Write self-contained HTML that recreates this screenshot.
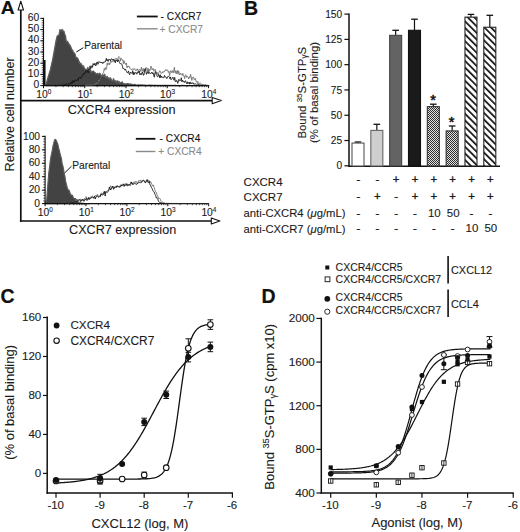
<!DOCTYPE html>
<html><head><meta charset="utf-8"><style>
html,body{margin:0;padding:0;background:#fff;width:520px;height:532px;overflow:hidden}
svg{display:block;font-family:"Liberation Sans", sans-serif}
</style></head><body>
<svg width="520" height="532" viewBox="0 0 520 532">
<defs>
<pattern id="chk" width="2" height="2" patternUnits="userSpaceOnUse"><rect width="2" height="2" fill="#e2e2e2"/><rect width="1" height="1" fill="#2e2e2e"/><rect x="1" y="1" width="1" height="1" fill="#2e2e2e"/></pattern>
<pattern id="hatch" width="4.67" height="4.67" patternUnits="userSpaceOnUse" patternTransform="rotate(-45)"><rect width="4.67" height="4.67" fill="#fff"/><rect x="0" y="0" width="1.7" height="4.67" fill="#111"/></pattern>
</defs>
<rect width="520" height="532" fill="#fff"/>
<text x="0.70" y="14.40" font-size="19.2" text-anchor="start" font-weight="bold" fill="#111" stroke="#111" stroke-width="0.2" >A</text>
<line x1="20.80" y1="8.50" x2="20.80" y2="221.80" stroke="#111" stroke-width="1.7"/>
<polygon points="20.80,1.20 18.10,10.00 23.50,10.00" fill="#fff" stroke="#111" stroke-width="1.1" stroke-linejoin="round" />
<line x1="19.95" y1="100.60" x2="212.50" y2="100.60" stroke="#111" stroke-width="1.7"/>
<polygon points="221.30,100.60 212.20,97.50 212.20,103.70" fill="#fff" stroke="#111" stroke-width="1.1" stroke-linejoin="round" />
<line x1="19.95" y1="221.00" x2="211.50" y2="221.00" stroke="#111" stroke-width="1.7"/>
<polygon points="219.90,221.00 211.30,218.00 211.30,224.00" fill="#fff" stroke="#111" stroke-width="1.1" stroke-linejoin="round" />
<text transform="translate(13.9,114.4) rotate(-90)" font-size="12.6" text-anchor="middle" fill="#1a1a1a" stroke="#1a1a1a" stroke-width="0.1">Relative cell number</text>
<text x="121.60" y="113.60" font-size="12.7" text-anchor="middle" font-weight="normal" fill="#1a1a1a" stroke="#1a1a1a" stroke-width="0.1" >CXCR4 expression</text>
<text x="122.60" y="233.70" font-size="12.6" text-anchor="middle" font-weight="normal" fill="#1a1a1a" stroke="#1a1a1a" stroke-width="0.1" >CXCR7 expression</text>
<polygon points="45.80,85.60 47.30,80.00 50.30,70.00 52.60,60.00 54.40,50.00 55.80,42.00 57.20,36.00 59.10,34.84 59.90,29.56 60.70,31.27 61.50,29.96 62.30,29.65 63.10,31.14 63.90,31.05 64.70,34.26 65.50,35.84 66.30,41.77 67.10,41.13 67.90,42.13 68.70,43.61 69.50,44.69 70.30,45.76 71.10,47.71 71.90,49.72 72.70,50.29 73.50,52.59 74.30,52.80 75.10,54.40 75.90,57.18 76.70,57.68 77.50,58.15 78.30,59.66 79.10,61.53 79.90,64.01 80.70,63.25 81.50,64.35 82.30,66.40 83.10,65.63 83.90,67.09 84.70,69.08 85.50,69.26 86.30,69.21 87.10,70.12 87.90,67.36 88.70,71.20 89.50,69.73 90.30,69.41 91.10,71.48 91.90,72.18 92.70,71.46 93.50,71.19 94.30,72.41 95.10,72.58 95.90,74.12 96.70,73.76 97.50,73.49 98.30,74.55 99.10,73.60 99.90,73.26 100.70,74.99 101.50,75.37 102.30,75.03 103.10,74.90 103.90,76.19 104.70,74.11 105.50,77.42 106.30,77.72 107.10,76.29 107.90,78.30 108.70,77.85 109.50,79.88 110.30,77.76 111.10,79.02 111.90,80.73 112.70,81.38 113.50,78.65 114.30,80.40 115.10,81.39 115.90,80.80 116.70,83.03 117.50,80.84 118.30,82.35 119.10,81.44 119.90,83.41 120.70,82.56 121.50,82.50 122.30,81.87 123.10,84.03 123.90,83.65 124.70,83.79 125.50,84.10 126.30,83.90 127.10,83.62 127.90,83.67 128.70,83.78 129.50,84.60 130.30,83.80 131.10,84.17 131.90,84.35 132.70,84.58 133.50,84.75 134.30,84.47 135.10,84.49 135.90,84.83 136.70,85.06 137.50,85.01 138.30,84.94 139.10,84.89 139.90,85.01 140.70,84.96 141.50,85.12 142.30,84.94 143.10,85.09 143.90,85.08 144.70,85.18 145.50,85.17 146.30,85.42 147.10,85.34 147.90,85.35 148.70,85.10 149.50,85.26 150.30,85.26 151.10,85.35 151.90,85.17 152.70,85.40 153.50,85.40 154.30,85.27 155.10,85.30 155.90,85.32 156.70,85.37 157.50,85.41 158.30,85.48 159.10,85.38 159.90,85.43 160.70,85.41 161.50,85.49 162.30,85.45 163.10,85.48 163.90,85.40 164.70,85.44 165.50,85.43 166.30,85.51 167.10,85.49 167.90,85.47 168.70,85.48 169.50,85.51 170.30,85.49 171.10,85.48 171.90,85.52 172.70,85.56 173.50,85.50 174.30,85.50 175.10,85.49 175.90,85.49 176.70,85.53 177.50,85.53 178.30,85.52 179.10,85.53 179.90,85.53 180.70,85.53 181.50,85.51 182.30,85.52 183.10,85.54 183.90,85.52 184.70,85.53 185.50,85.53 186.30,85.54 187.10,85.55 187.90,85.54 188.70,85.55 189.50,85.56 190.30,85.56 191.10,85.57 191.90,85.54 192.70,85.57 193.50,85.56 194.30,85.56 195.10,85.57 195.90,85.57 196.70,85.58 197.50,85.57 198.30,85.58 199.10,85.57 199.90,85.58 200.70,85.58 201.50,85.58 202.30,85.59 203.10,85.59 203.90,85.59 204.70,85.59 205.50,85.59 206.30,85.59 207.10,85.60 207.90,85.60 208.70,85.60 209.00,85.60" fill="#434343" stroke="#5c5c5c" stroke-width="1.3" stroke-linejoin="round" />
<line x1="44.60" y1="60.00" x2="44.60" y2="85.60" stroke="#111" stroke-width="1.9"/>
<line x1="43.50" y1="17.80" x2="43.50" y2="86.20" stroke="#111" stroke-width="1.15"/>
<line x1="40.30" y1="85.60" x2="43.50" y2="85.60" stroke="#111" stroke-width="1.0"/>
<text x="39.20" y="88.20" font-size="10.3" text-anchor="end" font-weight="normal" fill="#1a1a1a" stroke="#1a1a1a" stroke-width="0.1" >0</text>
<line x1="40.30" y1="74.40" x2="43.50" y2="74.40" stroke="#111" stroke-width="1.0"/>
<text x="39.20" y="77.00" font-size="10.3" text-anchor="end" font-weight="normal" fill="#1a1a1a" stroke="#1a1a1a" stroke-width="0.1" >10</text>
<line x1="40.30" y1="63.20" x2="43.50" y2="63.20" stroke="#111" stroke-width="1.0"/>
<text x="39.20" y="65.80" font-size="10.3" text-anchor="end" font-weight="normal" fill="#1a1a1a" stroke="#1a1a1a" stroke-width="0.1" >20</text>
<line x1="40.30" y1="52.00" x2="43.50" y2="52.00" stroke="#111" stroke-width="1.0"/>
<text x="39.20" y="54.60" font-size="10.3" text-anchor="end" font-weight="normal" fill="#1a1a1a" stroke="#1a1a1a" stroke-width="0.1" >30</text>
<line x1="40.30" y1="40.80" x2="43.50" y2="40.80" stroke="#111" stroke-width="1.0"/>
<text x="39.20" y="43.40" font-size="10.3" text-anchor="end" font-weight="normal" fill="#1a1a1a" stroke="#1a1a1a" stroke-width="0.1" >40</text>
<line x1="40.30" y1="29.60" x2="43.50" y2="29.60" stroke="#111" stroke-width="1.0"/>
<text x="39.20" y="32.20" font-size="10.3" text-anchor="end" font-weight="normal" fill="#1a1a1a" stroke="#1a1a1a" stroke-width="0.1" >50</text>
<line x1="40.30" y1="18.40" x2="43.50" y2="18.40" stroke="#111" stroke-width="1.0"/>
<text x="39.20" y="21.00" font-size="10.3" text-anchor="end" font-weight="normal" fill="#1a1a1a" stroke="#1a1a1a" stroke-width="0.1" >60</text>
<line x1="41.70" y1="85.60" x2="43.50" y2="85.60" stroke="#111" stroke-width="0.7"/>
<line x1="41.70" y1="83.36" x2="43.50" y2="83.36" stroke="#111" stroke-width="0.7"/>
<line x1="41.70" y1="81.12" x2="43.50" y2="81.12" stroke="#111" stroke-width="0.7"/>
<line x1="41.70" y1="78.88" x2="43.50" y2="78.88" stroke="#111" stroke-width="0.7"/>
<line x1="41.70" y1="76.64" x2="43.50" y2="76.64" stroke="#111" stroke-width="0.7"/>
<line x1="41.70" y1="74.40" x2="43.50" y2="74.40" stroke="#111" stroke-width="0.7"/>
<line x1="41.70" y1="72.16" x2="43.50" y2="72.16" stroke="#111" stroke-width="0.7"/>
<line x1="41.70" y1="69.92" x2="43.50" y2="69.92" stroke="#111" stroke-width="0.7"/>
<line x1="41.70" y1="67.68" x2="43.50" y2="67.68" stroke="#111" stroke-width="0.7"/>
<line x1="41.70" y1="65.44" x2="43.50" y2="65.44" stroke="#111" stroke-width="0.7"/>
<line x1="41.70" y1="63.20" x2="43.50" y2="63.20" stroke="#111" stroke-width="0.7"/>
<line x1="41.70" y1="60.96" x2="43.50" y2="60.96" stroke="#111" stroke-width="0.7"/>
<line x1="41.70" y1="58.72" x2="43.50" y2="58.72" stroke="#111" stroke-width="0.7"/>
<line x1="41.70" y1="56.48" x2="43.50" y2="56.48" stroke="#111" stroke-width="0.7"/>
<line x1="41.70" y1="54.24" x2="43.50" y2="54.24" stroke="#111" stroke-width="0.7"/>
<line x1="41.70" y1="52.00" x2="43.50" y2="52.00" stroke="#111" stroke-width="0.7"/>
<line x1="41.70" y1="49.76" x2="43.50" y2="49.76" stroke="#111" stroke-width="0.7"/>
<line x1="41.70" y1="47.52" x2="43.50" y2="47.52" stroke="#111" stroke-width="0.7"/>
<line x1="41.70" y1="45.28" x2="43.50" y2="45.28" stroke="#111" stroke-width="0.7"/>
<line x1="41.70" y1="43.04" x2="43.50" y2="43.04" stroke="#111" stroke-width="0.7"/>
<line x1="41.70" y1="40.80" x2="43.50" y2="40.80" stroke="#111" stroke-width="0.7"/>
<line x1="41.70" y1="38.56" x2="43.50" y2="38.56" stroke="#111" stroke-width="0.7"/>
<line x1="41.70" y1="36.32" x2="43.50" y2="36.32" stroke="#111" stroke-width="0.7"/>
<line x1="41.70" y1="34.08" x2="43.50" y2="34.08" stroke="#111" stroke-width="0.7"/>
<line x1="41.70" y1="31.84" x2="43.50" y2="31.84" stroke="#111" stroke-width="0.7"/>
<line x1="41.70" y1="29.60" x2="43.50" y2="29.60" stroke="#111" stroke-width="0.7"/>
<line x1="41.70" y1="27.36" x2="43.50" y2="27.36" stroke="#111" stroke-width="0.7"/>
<line x1="41.70" y1="25.12" x2="43.50" y2="25.12" stroke="#111" stroke-width="0.7"/>
<line x1="41.70" y1="22.88" x2="43.50" y2="22.88" stroke="#111" stroke-width="0.7"/>
<line x1="41.70" y1="20.64" x2="43.50" y2="20.64" stroke="#111" stroke-width="0.7"/>
<line x1="41.70" y1="18.40" x2="43.50" y2="18.40" stroke="#111" stroke-width="0.7"/>
<line x1="43.50" y1="85.60" x2="208.50" y2="85.60" stroke="#111" stroke-width="1.3"/>
<line x1="43.50" y1="85.60" x2="43.50" y2="88.20" stroke="#111" stroke-width="1.0"/>
<line x1="55.92" y1="85.60" x2="55.92" y2="87.20" stroke="#111" stroke-width="0.7"/>
<line x1="63.18" y1="85.60" x2="63.18" y2="87.20" stroke="#111" stroke-width="0.7"/>
<line x1="68.33" y1="85.60" x2="68.33" y2="87.20" stroke="#111" stroke-width="0.7"/>
<line x1="72.33" y1="85.60" x2="72.33" y2="87.20" stroke="#111" stroke-width="0.7"/>
<line x1="75.60" y1="85.60" x2="75.60" y2="87.20" stroke="#111" stroke-width="0.7"/>
<line x1="78.36" y1="85.60" x2="78.36" y2="87.20" stroke="#111" stroke-width="0.7"/>
<line x1="80.75" y1="85.60" x2="80.75" y2="87.20" stroke="#111" stroke-width="0.7"/>
<line x1="82.86" y1="85.60" x2="82.86" y2="87.20" stroke="#111" stroke-width="0.7"/>
<text x="43.70" y="97.70" font-size="10.3" text-anchor="middle" fill="#1a1a1a" stroke="#1a1a1a" stroke-width="0.1">10<tspan dy="-3.3" font-size="6.4">0</tspan></text>
<line x1="84.75" y1="85.60" x2="84.75" y2="88.20" stroke="#111" stroke-width="1.0"/>
<line x1="97.17" y1="85.60" x2="97.17" y2="87.20" stroke="#111" stroke-width="0.7"/>
<line x1="104.43" y1="85.60" x2="104.43" y2="87.20" stroke="#111" stroke-width="0.7"/>
<line x1="109.58" y1="85.60" x2="109.58" y2="87.20" stroke="#111" stroke-width="0.7"/>
<line x1="113.58" y1="85.60" x2="113.58" y2="87.20" stroke="#111" stroke-width="0.7"/>
<line x1="116.85" y1="85.60" x2="116.85" y2="87.20" stroke="#111" stroke-width="0.7"/>
<line x1="119.61" y1="85.60" x2="119.61" y2="87.20" stroke="#111" stroke-width="0.7"/>
<line x1="122.00" y1="85.60" x2="122.00" y2="87.20" stroke="#111" stroke-width="0.7"/>
<line x1="124.11" y1="85.60" x2="124.11" y2="87.20" stroke="#111" stroke-width="0.7"/>
<text x="84.95" y="97.70" font-size="10.3" text-anchor="middle" fill="#1a1a1a" stroke="#1a1a1a" stroke-width="0.1">10<tspan dy="-3.3" font-size="6.4">1</tspan></text>
<line x1="126.00" y1="85.60" x2="126.00" y2="88.20" stroke="#111" stroke-width="1.0"/>
<line x1="138.42" y1="85.60" x2="138.42" y2="87.20" stroke="#111" stroke-width="0.7"/>
<line x1="145.68" y1="85.60" x2="145.68" y2="87.20" stroke="#111" stroke-width="0.7"/>
<line x1="150.83" y1="85.60" x2="150.83" y2="87.20" stroke="#111" stroke-width="0.7"/>
<line x1="154.83" y1="85.60" x2="154.83" y2="87.20" stroke="#111" stroke-width="0.7"/>
<line x1="158.10" y1="85.60" x2="158.10" y2="87.20" stroke="#111" stroke-width="0.7"/>
<line x1="160.86" y1="85.60" x2="160.86" y2="87.20" stroke="#111" stroke-width="0.7"/>
<line x1="163.25" y1="85.60" x2="163.25" y2="87.20" stroke="#111" stroke-width="0.7"/>
<line x1="165.36" y1="85.60" x2="165.36" y2="87.20" stroke="#111" stroke-width="0.7"/>
<text x="126.20" y="97.70" font-size="10.3" text-anchor="middle" fill="#1a1a1a" stroke="#1a1a1a" stroke-width="0.1">10<tspan dy="-3.3" font-size="6.4">2</tspan></text>
<line x1="167.25" y1="85.60" x2="167.25" y2="88.20" stroke="#111" stroke-width="1.0"/>
<line x1="179.67" y1="85.60" x2="179.67" y2="87.20" stroke="#111" stroke-width="0.7"/>
<line x1="186.93" y1="85.60" x2="186.93" y2="87.20" stroke="#111" stroke-width="0.7"/>
<line x1="192.08" y1="85.60" x2="192.08" y2="87.20" stroke="#111" stroke-width="0.7"/>
<line x1="196.08" y1="85.60" x2="196.08" y2="87.20" stroke="#111" stroke-width="0.7"/>
<line x1="199.35" y1="85.60" x2="199.35" y2="87.20" stroke="#111" stroke-width="0.7"/>
<line x1="202.11" y1="85.60" x2="202.11" y2="87.20" stroke="#111" stroke-width="0.7"/>
<line x1="204.50" y1="85.60" x2="204.50" y2="87.20" stroke="#111" stroke-width="0.7"/>
<line x1="206.61" y1="85.60" x2="206.61" y2="87.20" stroke="#111" stroke-width="0.7"/>
<text x="167.45" y="97.70" font-size="10.3" text-anchor="middle" fill="#1a1a1a" stroke="#1a1a1a" stroke-width="0.1">10<tspan dy="-3.3" font-size="6.4">3</tspan></text>
<line x1="208.50" y1="85.60" x2="208.50" y2="88.20" stroke="#111" stroke-width="1.0"/>
<text x="208.70" y="97.70" font-size="10.3" text-anchor="middle" fill="#1a1a1a" stroke="#1a1a1a" stroke-width="0.1">10<tspan dy="-3.3" font-size="6.4">4</tspan></text>
<polyline points="85.00,85.40 85.60,85.50 86.20,85.26 86.80,85.40 87.40,85.18 88.00,85.09 88.60,85.08 89.20,84.96 89.80,85.14 90.40,85.27 91.00,85.07 91.60,85.13 92.20,85.33 92.80,85.00 93.40,84.94 94.00,84.79 94.60,84.39 95.20,84.87 95.80,83.07 96.40,83.95 97.00,82.87 97.60,83.60 98.20,81.64 98.80,80.00 99.40,81.08 100.00,79.22 100.60,78.55 101.20,77.66 101.80,76.21 102.40,74.94 103.00,72.83 103.60,72.54 104.20,68.61 104.80,70.18 105.40,67.52 106.00,69.57 106.60,68.58 107.20,62.87 107.80,65.06 108.40,64.39 109.00,62.81 109.60,64.74 110.20,62.98 110.80,60.64 111.40,62.23 112.00,61.89 112.60,61.73 113.20,59.47 113.80,61.70 114.40,61.50 115.00,58.50 115.60,58.82 116.20,59.28 116.80,58.29 117.40,61.20 118.00,58.74 118.60,56.72 119.20,56.71 119.80,57.42 120.40,61.18 121.00,58.19 121.60,59.08 122.20,60.09 122.80,59.79 123.40,63.73 124.00,60.61 124.60,63.20 125.20,63.20 125.80,64.65 126.40,62.95 127.00,67.88 127.60,66.05 128.20,67.08 128.80,66.10 129.40,66.54 130.00,68.51 130.60,69.26 131.20,69.08 131.80,69.88 132.40,69.34 133.00,68.54 133.60,69.78 134.20,69.55 134.80,68.69 135.40,69.96 136.00,70.86 136.60,69.50 137.20,68.78 137.80,70.40 138.40,72.16 139.00,69.32 139.60,69.60 140.20,69.60 140.80,71.47 141.40,67.15 142.00,70.21 142.60,71.33 143.20,68.49 143.80,71.69 144.40,70.32 145.00,68.77 145.60,69.79 146.20,67.33 146.80,68.65 147.40,71.97 148.00,68.13 148.60,71.93 149.20,69.21 149.80,70.68 150.40,69.32 151.00,66.09 151.60,68.46 152.20,69.92 152.80,68.44 153.40,68.56 154.00,71.35 154.60,70.32 155.20,69.25 155.80,71.06 156.40,73.62 157.00,72.14 157.60,74.26 158.20,74.99 158.80,72.80 159.40,71.08 160.00,70.74 160.60,72.43 161.20,73.60 161.80,72.64 162.40,72.93 163.00,71.45 163.60,72.39 164.20,71.22 164.80,71.32 165.40,69.87 166.00,69.38 166.60,70.83 167.20,69.95 167.80,70.16 168.40,72.44 169.00,71.35 169.60,75.58 170.20,72.80 170.80,70.61 171.40,72.59 172.00,72.00 172.60,70.54 173.20,73.04 173.80,70.41 174.40,67.22 175.00,72.68 175.60,70.81 176.20,73.86 176.80,70.98 177.40,70.34 178.00,74.27 178.60,70.89 179.20,72.98 179.80,75.03 180.40,73.46 181.00,73.49 181.60,74.04 182.20,75.37 182.80,73.37 183.40,75.65 184.00,75.91 184.60,78.67 185.20,75.23 185.80,74.72 186.40,77.33 187.00,76.04 187.60,77.30 188.20,77.39 188.80,79.05 189.40,76.67 190.00,77.64 190.60,74.37 191.20,76.87 191.80,80.45 192.40,77.52 193.00,77.67 193.60,77.12 194.20,79.81 194.80,79.77 195.40,78.38 196.00,81.50 196.60,81.45 197.20,82.66 197.80,81.35 198.40,84.45 199.00,83.43 199.60,83.18 200.20,83.10 200.80,83.53 201.40,84.41 202.00,83.97 202.60,84.80 203.20,84.74 203.80,85.14 204.40,85.07 205.00,84.93 205.60,84.64 206.20,85.16 206.80,85.30 207.40,85.29 208.00,85.41 208.60,85.42" fill="none" stroke="#6a6a6a" stroke-width="0.85" stroke-linejoin="round" />
<polyline points="44.50,85.38 45.10,85.33 45.70,85.48 46.30,85.40 46.90,85.35 47.50,85.29 48.10,85.37 48.70,85.48 49.30,85.40 49.90,85.31 50.50,85.47 51.10,85.47 51.70,85.43 52.30,85.41 52.90,85.44 53.50,85.39 54.10,85.40 54.70,85.27 55.30,85.46 55.90,85.35 56.50,85.51 57.10,85.13 57.70,85.38 58.30,85.40 58.90,85.27 59.50,85.35 60.10,85.36 60.70,85.28 61.30,85.05 61.90,85.03 62.50,85.18 63.10,85.19 63.70,84.84 64.30,84.76 64.90,84.72 65.50,84.93 66.10,84.13 66.70,83.92 67.30,84.40 67.90,83.80 68.50,83.93 69.10,84.16 69.70,84.28 70.30,83.21 70.90,84.03 71.50,81.71 72.10,83.29 72.70,80.82 73.30,80.61 73.90,82.52 74.50,80.82 75.10,79.95 75.70,80.04 76.30,80.86 76.90,79.82 77.50,79.49 78.10,80.54 78.70,77.87 79.30,77.59 79.90,76.92 80.50,78.52 81.10,77.69 81.70,77.47 82.30,75.16 82.90,74.40 83.50,75.11 84.10,72.87 84.70,73.85 85.30,73.09 85.90,70.63 86.50,70.81 87.10,70.15 87.70,72.21 88.30,73.03 88.90,69.24 89.50,69.10 90.10,65.82 90.70,68.77 91.30,67.87 91.90,65.71 92.50,67.35 93.10,63.52 93.70,64.87 94.30,65.11 94.90,63.09 95.50,65.61 96.10,65.64 96.70,62.25 97.30,62.00 97.90,64.39 98.50,63.31 99.10,61.49 99.70,62.39 100.30,62.34 100.90,62.00 101.50,62.97 102.10,62.12 102.70,63.67 103.30,62.91 103.90,61.75 104.50,62.02 105.10,62.09 105.70,61.04 106.30,58.32 106.90,60.84 107.50,59.64 108.10,61.47 108.70,59.30 109.30,59.68 109.90,59.24 110.50,60.82 111.10,59.04 111.70,58.70 112.30,59.70 112.90,58.98 113.50,60.00 114.10,60.02 114.70,60.53 115.30,62.83 115.90,59.95 116.50,60.67 117.10,60.52 117.70,61.80 118.30,59.76 118.90,61.00 119.50,62.45 120.10,63.81 120.70,63.64 121.30,63.78 121.90,64.16 122.50,66.82 123.10,68.88 123.70,68.29 124.30,68.96 124.90,70.14 125.50,69.17 126.10,70.83 126.70,71.73 127.30,72.88 127.90,72.46 128.50,70.92 129.10,73.96 129.70,74.70 130.30,72.16 130.90,73.02 131.50,72.85 132.10,73.53 132.70,70.65 133.30,74.73 133.90,72.08 134.50,74.39 135.10,72.91 135.70,72.36 136.30,72.75 136.90,74.16 137.50,71.93 138.10,72.62 138.70,72.54 139.30,71.00 139.90,74.98 140.50,74.03 141.10,73.21 141.70,74.72 142.30,71.94 142.90,73.05 143.50,75.36 144.10,74.36 144.70,70.16 145.30,68.69 145.90,71.64 146.50,74.34 147.10,72.32 147.70,72.62 148.30,73.66 148.90,71.68 149.50,73.08 150.10,73.80 150.70,73.35 151.30,73.23 151.90,72.09 152.50,73.79 153.10,72.82 153.70,75.32 154.30,77.22 154.90,73.17 155.50,71.55 156.10,74.08 156.70,75.37 157.30,76.50 157.90,76.79 158.50,74.62 159.10,74.86 159.70,77.76 160.30,74.77 160.90,77.69 161.50,76.05 162.10,77.42 162.70,77.42 163.30,77.59 163.90,77.73 164.50,75.45 165.10,77.20 165.70,76.91 166.30,77.37 166.90,78.66 167.50,76.78 168.10,76.28 168.70,76.34 169.30,77.09 169.90,78.71 170.50,76.91 171.10,79.72 171.70,78.83 172.30,78.39 172.90,77.19 173.50,79.48 174.10,80.30 174.70,77.32 175.30,81.28 175.90,81.98 176.50,80.39 177.10,80.70 177.70,83.31 178.30,81.89 178.90,79.23 179.50,80.48 180.10,80.41 180.70,80.53 181.30,77.76 181.90,81.93 182.50,80.23 183.10,81.38 183.70,81.10 184.30,82.56 184.90,81.19 185.50,80.72 186.10,82.51 186.70,83.65 187.30,81.81 187.90,83.77 188.50,82.73 189.10,82.09 189.70,84.16 190.30,82.18 190.90,83.89 191.50,82.79 192.10,83.65 192.70,82.58 193.30,83.03 193.90,84.36 194.50,83.95 195.10,84.00 195.70,83.90 196.30,84.44 196.90,83.82 197.50,84.11 198.10,84.60 198.70,84.55 199.30,84.68 199.90,84.89 200.50,84.94 201.10,84.98 201.70,85.36 202.30,85.29 202.90,85.36 203.50,85.25 204.10,85.27 204.70,85.26 205.30,85.39 205.90,85.30 206.50,85.41 207.10,85.49 207.70,85.54 208.30,85.52 208.90,85.47" fill="none" stroke="#111" stroke-width="0.85" stroke-linejoin="round" />
<line x1="76.30" y1="52.00" x2="83.30" y2="47.70" stroke="#111" stroke-width="1.0"/>
<text x="84.20" y="48.50" font-size="10.2" text-anchor="start" font-weight="normal" fill="#1a1a1a" stroke="#1a1a1a" stroke-width="0.1" >Parental</text>
<line x1="136.90" y1="16.50" x2="157.70" y2="16.50" stroke="#111" stroke-width="1.8"/>
<text x="160.60" y="20.40" font-size="10.2" text-anchor="start" font-weight="normal" fill="#111" stroke="#111" stroke-width="0.1" >- CXCR7</text>
<line x1="136.90" y1="28.80" x2="157.70" y2="28.80" stroke="#8a8a8a" stroke-width="1.4"/>
<text x="159.60" y="32.70" font-size="10.2" text-anchor="start" font-weight="normal" fill="#8a8a8a" stroke="#8a8a8a" stroke-width="0.1" >+ CXCR7</text>
<polygon points="44.60,203.60 44.60,203.60 45.30,202.53 46.00,201.92 46.70,199.43 47.40,190.51 48.10,181.54 48.80,172.78 49.50,167.83 50.20,161.54 50.90,156.86 51.60,153.74 52.30,150.21 53.00,145.96 53.70,143.46 54.40,140.48 55.10,139.29 55.80,139.66 56.50,141.01 57.20,142.66 57.90,144.49 58.60,147.89 59.30,150.48 60.00,153.40 60.70,156.24 61.40,158.37 62.10,163.44 62.80,165.68 63.50,168.96 64.20,173.56 64.90,176.20 65.60,181.16 66.30,183.92 67.00,186.72 67.70,189.06 68.40,190.28 69.10,190.20 69.80,192.39 70.50,194.01 71.20,195.19 71.90,195.08 72.60,195.60 73.30,197.67 74.00,198.29 74.70,198.82 75.40,198.54 76.10,201.12 76.80,199.46 77.50,201.08 78.20,202.31 78.90,202.18 79.60,202.75 80.30,202.93 81.00,203.20 81.70,203.09 82.40,203.25 83.10,203.32 83.80,203.35 84.50,203.47 85.20,203.48 85.90,203.51 86.60,203.53 87.30,203.54 88.00,203.56 88.70,203.58 89.40,203.59 90.00,203.60" fill="#434343" stroke="#5c5c5c" stroke-width="1.2" stroke-linejoin="round" />
<line x1="45.10" y1="135.70" x2="45.10" y2="204.20" stroke="#111" stroke-width="1.15"/>
<line x1="41.90" y1="203.60" x2="45.10" y2="203.60" stroke="#111" stroke-width="1.0"/>
<text x="40.10" y="206.80" font-size="10.3" text-anchor="end" font-weight="normal" fill="#1a1a1a" stroke="#1a1a1a" stroke-width="0.1" >0</text>
<line x1="41.90" y1="190.16" x2="45.10" y2="190.16" stroke="#111" stroke-width="1.0"/>
<text x="40.10" y="193.36" font-size="10.3" text-anchor="end" font-weight="normal" fill="#1a1a1a" stroke="#1a1a1a" stroke-width="0.1" >20</text>
<line x1="41.90" y1="176.72" x2="45.10" y2="176.72" stroke="#111" stroke-width="1.0"/>
<text x="40.10" y="179.92" font-size="10.3" text-anchor="end" font-weight="normal" fill="#1a1a1a" stroke="#1a1a1a" stroke-width="0.1" >40</text>
<line x1="41.90" y1="163.28" x2="45.10" y2="163.28" stroke="#111" stroke-width="1.0"/>
<text x="40.10" y="166.48" font-size="10.3" text-anchor="end" font-weight="normal" fill="#1a1a1a" stroke="#1a1a1a" stroke-width="0.1" >60</text>
<line x1="41.90" y1="149.84" x2="45.10" y2="149.84" stroke="#111" stroke-width="1.0"/>
<text x="40.10" y="153.04" font-size="10.3" text-anchor="end" font-weight="normal" fill="#1a1a1a" stroke="#1a1a1a" stroke-width="0.1" >80</text>
<line x1="41.90" y1="136.40" x2="45.10" y2="136.40" stroke="#111" stroke-width="1.0"/>
<text x="40.10" y="139.60" font-size="10.3" text-anchor="end" font-weight="normal" fill="#1a1a1a" stroke="#1a1a1a" stroke-width="0.1" >100</text>
<line x1="43.30" y1="203.60" x2="45.10" y2="203.60" stroke="#111" stroke-width="0.7"/>
<line x1="43.30" y1="200.91" x2="45.10" y2="200.91" stroke="#111" stroke-width="0.7"/>
<line x1="43.30" y1="198.22" x2="45.10" y2="198.22" stroke="#111" stroke-width="0.7"/>
<line x1="43.30" y1="195.54" x2="45.10" y2="195.54" stroke="#111" stroke-width="0.7"/>
<line x1="43.30" y1="192.85" x2="45.10" y2="192.85" stroke="#111" stroke-width="0.7"/>
<line x1="43.30" y1="190.16" x2="45.10" y2="190.16" stroke="#111" stroke-width="0.7"/>
<line x1="43.30" y1="187.47" x2="45.10" y2="187.47" stroke="#111" stroke-width="0.7"/>
<line x1="43.30" y1="184.78" x2="45.10" y2="184.78" stroke="#111" stroke-width="0.7"/>
<line x1="43.30" y1="182.10" x2="45.10" y2="182.10" stroke="#111" stroke-width="0.7"/>
<line x1="43.30" y1="179.41" x2="45.10" y2="179.41" stroke="#111" stroke-width="0.7"/>
<line x1="43.30" y1="176.72" x2="45.10" y2="176.72" stroke="#111" stroke-width="0.7"/>
<line x1="43.30" y1="174.03" x2="45.10" y2="174.03" stroke="#111" stroke-width="0.7"/>
<line x1="43.30" y1="171.34" x2="45.10" y2="171.34" stroke="#111" stroke-width="0.7"/>
<line x1="43.30" y1="168.66" x2="45.10" y2="168.66" stroke="#111" stroke-width="0.7"/>
<line x1="43.30" y1="165.97" x2="45.10" y2="165.97" stroke="#111" stroke-width="0.7"/>
<line x1="43.30" y1="163.28" x2="45.10" y2="163.28" stroke="#111" stroke-width="0.7"/>
<line x1="43.30" y1="160.59" x2="45.10" y2="160.59" stroke="#111" stroke-width="0.7"/>
<line x1="43.30" y1="157.90" x2="45.10" y2="157.90" stroke="#111" stroke-width="0.7"/>
<line x1="43.30" y1="155.22" x2="45.10" y2="155.22" stroke="#111" stroke-width="0.7"/>
<line x1="43.30" y1="152.53" x2="45.10" y2="152.53" stroke="#111" stroke-width="0.7"/>
<line x1="43.30" y1="149.84" x2="45.10" y2="149.84" stroke="#111" stroke-width="0.7"/>
<line x1="43.30" y1="147.15" x2="45.10" y2="147.15" stroke="#111" stroke-width="0.7"/>
<line x1="43.30" y1="144.46" x2="45.10" y2="144.46" stroke="#111" stroke-width="0.7"/>
<line x1="43.30" y1="141.78" x2="45.10" y2="141.78" stroke="#111" stroke-width="0.7"/>
<line x1="43.30" y1="139.09" x2="45.10" y2="139.09" stroke="#111" stroke-width="0.7"/>
<line x1="43.30" y1="136.40" x2="45.10" y2="136.40" stroke="#111" stroke-width="0.7"/>
<line x1="45.10" y1="203.60" x2="208.70" y2="203.60" stroke="#111" stroke-width="1.3"/>
<line x1="45.10" y1="203.60" x2="45.10" y2="206.20" stroke="#111" stroke-width="1.0"/>
<line x1="57.41" y1="203.60" x2="57.41" y2="205.20" stroke="#111" stroke-width="0.7"/>
<line x1="64.61" y1="203.60" x2="64.61" y2="205.20" stroke="#111" stroke-width="0.7"/>
<line x1="69.72" y1="203.60" x2="69.72" y2="205.20" stroke="#111" stroke-width="0.7"/>
<line x1="73.69" y1="203.60" x2="73.69" y2="205.20" stroke="#111" stroke-width="0.7"/>
<line x1="76.93" y1="203.60" x2="76.93" y2="205.20" stroke="#111" stroke-width="0.7"/>
<line x1="79.66" y1="203.60" x2="79.66" y2="205.20" stroke="#111" stroke-width="0.7"/>
<line x1="82.04" y1="203.60" x2="82.04" y2="205.20" stroke="#111" stroke-width="0.7"/>
<line x1="84.13" y1="203.60" x2="84.13" y2="205.20" stroke="#111" stroke-width="0.7"/>
<text x="45.30" y="215.70" font-size="10.3" text-anchor="middle" fill="#1a1a1a" stroke="#1a1a1a" stroke-width="0.1">10<tspan dy="-3.3" font-size="6.4">0</tspan></text>
<line x1="86.00" y1="203.60" x2="86.00" y2="206.20" stroke="#111" stroke-width="1.0"/>
<line x1="98.31" y1="203.60" x2="98.31" y2="205.20" stroke="#111" stroke-width="0.7"/>
<line x1="105.51" y1="203.60" x2="105.51" y2="205.20" stroke="#111" stroke-width="0.7"/>
<line x1="110.62" y1="203.60" x2="110.62" y2="205.20" stroke="#111" stroke-width="0.7"/>
<line x1="114.59" y1="203.60" x2="114.59" y2="205.20" stroke="#111" stroke-width="0.7"/>
<line x1="117.83" y1="203.60" x2="117.83" y2="205.20" stroke="#111" stroke-width="0.7"/>
<line x1="120.56" y1="203.60" x2="120.56" y2="205.20" stroke="#111" stroke-width="0.7"/>
<line x1="122.94" y1="203.60" x2="122.94" y2="205.20" stroke="#111" stroke-width="0.7"/>
<line x1="125.03" y1="203.60" x2="125.03" y2="205.20" stroke="#111" stroke-width="0.7"/>
<text x="86.20" y="215.70" font-size="10.3" text-anchor="middle" fill="#1a1a1a" stroke="#1a1a1a" stroke-width="0.1">10<tspan dy="-3.3" font-size="6.4">1</tspan></text>
<line x1="126.90" y1="203.60" x2="126.90" y2="206.20" stroke="#111" stroke-width="1.0"/>
<line x1="139.21" y1="203.60" x2="139.21" y2="205.20" stroke="#111" stroke-width="0.7"/>
<line x1="146.41" y1="203.60" x2="146.41" y2="205.20" stroke="#111" stroke-width="0.7"/>
<line x1="151.52" y1="203.60" x2="151.52" y2="205.20" stroke="#111" stroke-width="0.7"/>
<line x1="155.49" y1="203.60" x2="155.49" y2="205.20" stroke="#111" stroke-width="0.7"/>
<line x1="158.73" y1="203.60" x2="158.73" y2="205.20" stroke="#111" stroke-width="0.7"/>
<line x1="161.46" y1="203.60" x2="161.46" y2="205.20" stroke="#111" stroke-width="0.7"/>
<line x1="163.84" y1="203.60" x2="163.84" y2="205.20" stroke="#111" stroke-width="0.7"/>
<line x1="165.93" y1="203.60" x2="165.93" y2="205.20" stroke="#111" stroke-width="0.7"/>
<text x="127.10" y="215.70" font-size="10.3" text-anchor="middle" fill="#1a1a1a" stroke="#1a1a1a" stroke-width="0.1">10<tspan dy="-3.3" font-size="6.4">2</tspan></text>
<line x1="167.80" y1="203.60" x2="167.80" y2="206.20" stroke="#111" stroke-width="1.0"/>
<line x1="180.11" y1="203.60" x2="180.11" y2="205.20" stroke="#111" stroke-width="0.7"/>
<line x1="187.31" y1="203.60" x2="187.31" y2="205.20" stroke="#111" stroke-width="0.7"/>
<line x1="192.42" y1="203.60" x2="192.42" y2="205.20" stroke="#111" stroke-width="0.7"/>
<line x1="196.39" y1="203.60" x2="196.39" y2="205.20" stroke="#111" stroke-width="0.7"/>
<line x1="199.63" y1="203.60" x2="199.63" y2="205.20" stroke="#111" stroke-width="0.7"/>
<line x1="202.36" y1="203.60" x2="202.36" y2="205.20" stroke="#111" stroke-width="0.7"/>
<line x1="204.74" y1="203.60" x2="204.74" y2="205.20" stroke="#111" stroke-width="0.7"/>
<line x1="206.83" y1="203.60" x2="206.83" y2="205.20" stroke="#111" stroke-width="0.7"/>
<text x="168.00" y="215.70" font-size="10.3" text-anchor="middle" fill="#1a1a1a" stroke="#1a1a1a" stroke-width="0.1">10<tspan dy="-3.3" font-size="6.4">3</tspan></text>
<line x1="208.70" y1="203.60" x2="208.70" y2="206.20" stroke="#111" stroke-width="1.0"/>
<text x="208.90" y="215.70" font-size="10.3" text-anchor="middle" fill="#1a1a1a" stroke="#1a1a1a" stroke-width="0.1">10<tspan dy="-3.3" font-size="6.4">4</tspan></text>
<polyline points="68.00,203.37 68.70,203.16 69.40,202.96 70.10,202.98 70.80,202.58 71.50,202.56 72.20,202.21 72.90,201.71 73.60,202.22 74.30,201.13 75.00,201.44 75.70,202.11 76.40,200.33 77.10,200.80 77.80,199.46 78.50,200.03 79.20,198.97 79.90,199.71 80.60,199.35 81.30,199.80 82.00,201.08 82.70,199.61 83.40,199.81 84.10,198.92 84.80,198.56 85.50,197.79 86.20,196.65 86.90,198.34 87.60,199.73 88.30,198.40 89.00,197.22 89.70,199.22 90.40,196.99 91.10,196.66 91.80,195.93 92.50,196.04 93.20,196.61 93.90,198.72 94.60,196.37 95.30,195.41 96.00,195.69 96.70,195.94 97.40,194.31 98.10,196.01 98.80,196.44 99.50,195.92 100.20,195.98 100.90,193.67 101.60,192.84 102.30,195.41 103.00,194.79 103.70,191.74 104.40,193.07 105.10,192.46 105.80,192.48 106.50,191.66 107.20,190.46 107.90,190.67 108.60,190.14 109.30,189.44 110.00,187.15 110.70,185.72 111.40,187.65 112.10,186.53 112.80,188.13 113.50,188.32 114.20,187.58 114.90,186.67 115.60,186.89 116.30,187.78 117.00,185.67 117.70,187.11 118.40,186.69 119.10,186.03 119.80,187.01 120.50,184.70 121.20,186.24 121.90,184.25 122.60,184.29 123.30,183.88 124.00,185.27 124.70,183.76 125.40,184.63 126.10,183.33 126.80,185.41 127.50,186.06 128.20,184.33 128.90,185.63 129.60,184.43 130.30,185.92 131.00,183.72 131.70,181.92 132.40,184.86 133.10,183.12 133.80,182.08 134.50,182.33 135.20,181.24 135.90,182.57 136.60,181.54 137.30,183.97 138.00,183.02 138.70,180.57 139.40,180.60 140.10,181.41 140.80,179.91 141.50,181.59 142.20,181.52 142.90,180.65 143.60,180.73 144.30,181.64 145.00,182.42 145.70,182.36 146.40,180.75 147.10,181.44 147.80,179.94 148.50,181.51 149.20,180.56 149.90,182.67 150.60,181.54 151.30,182.72 152.00,184.58 152.70,186.05 153.40,184.96 154.10,187.48 154.80,189.77 155.50,191.49 156.20,192.04 156.90,194.45 157.60,195.38 158.30,198.34 159.00,198.79 159.70,198.20 160.40,199.28 161.10,201.38 161.80,202.26 162.50,202.13 163.20,202.70 163.90,202.72 164.60,203.05 165.30,203.44 166.00,203.41 166.70,203.45 167.40,203.36 168.10,203.44 168.80,203.41 169.50,203.48 170.20,203.43 170.90,203.44 171.60,203.45 172.30,203.51 173.00,203.48 173.70,203.47 174.40,203.47 175.10,203.47 175.80,203.54 176.50,203.45 177.20,203.48 177.90,203.52 178.60,203.53 179.30,203.50 180.00,203.52 180.70,203.52 181.40,203.52 182.10,203.50 182.80,203.54 183.50,203.51 184.20,203.54 184.90,203.47 185.60,203.52 186.30,203.47 187.00,203.46 187.70,203.51 188.40,203.48 189.10,203.51 189.80,203.47 190.50,203.54 191.20,203.50 191.90,203.47 192.60,203.51 193.30,203.52 194.00,203.48 194.70,203.51 195.40,203.55 196.10,203.52 196.80,203.50 197.50,203.49 198.20,203.52 198.90,203.46 199.60,203.43 200.30,203.48 201.00,203.47 201.70,203.54 202.40,203.50 203.10,203.48 203.80,203.47 204.50,203.51 205.20,203.48 205.90,203.49 206.60,203.50 207.30,203.50 208.00,203.50 208.70,203.50" fill="none" stroke="#6a6a6a" stroke-width="0.85" stroke-linejoin="round" />
<polyline points="66.00,203.53 66.70,203.48 67.40,203.13 68.10,203.45 68.80,203.06 69.50,203.14 70.20,202.67 70.90,202.77 71.60,202.64 72.30,202.48 73.00,202.56 73.70,202.34 74.40,201.50 75.10,201.70 75.80,201.96 76.50,201.80 77.20,201.04 77.90,200.89 78.60,200.80 79.30,199.92 80.00,199.56 80.70,201.67 81.40,199.87 82.10,200.13 82.80,199.16 83.50,200.99 84.20,201.28 84.90,199.13 85.60,199.69 86.30,198.25 87.00,200.59 87.70,199.58 88.40,197.64 89.10,199.55 89.80,198.49 90.50,198.39 91.20,198.19 91.90,197.03 92.60,197.02 93.30,198.04 94.00,197.22 94.70,196.18 95.40,199.02 96.10,196.64 96.80,196.15 97.50,195.87 98.20,197.12 98.90,197.26 99.60,196.40 100.30,196.76 101.00,193.97 101.70,194.68 102.40,194.16 103.10,194.21 103.80,194.28 104.50,191.33 105.20,196.05 105.90,191.57 106.60,192.29 107.30,192.28 108.00,191.81 108.70,190.71 109.40,187.07 110.10,188.43 110.80,190.00 111.50,188.03 112.20,187.62 112.90,186.04 113.60,189.33 114.30,188.34 115.00,186.65 115.70,187.20 116.40,187.02 117.10,185.79 117.80,186.42 118.50,186.74 119.20,186.82 119.90,187.33 120.60,185.96 121.30,185.34 122.00,186.09 122.70,184.94 123.40,184.19 124.10,186.47 124.80,184.82 125.50,185.21 126.20,185.62 126.90,183.74 127.60,185.37 128.30,185.06 129.00,184.39 129.70,184.76 130.40,183.49 131.10,181.92 131.80,183.71 132.50,182.96 133.20,184.61 133.90,183.88 134.60,182.96 135.30,183.41 136.00,184.59 136.70,184.25 137.40,183.35 138.10,183.29 138.80,182.46 139.50,182.48 140.20,183.07 140.90,182.21 141.60,182.48 142.30,180.92 143.00,180.22 143.70,180.05 144.40,181.16 145.10,182.78 145.80,182.49 146.50,180.16 147.20,179.46 147.90,182.42 148.60,182.70 149.30,181.47 150.00,184.97 150.70,185.34 151.40,187.74 152.10,188.38 152.80,190.54 153.50,191.59 154.20,191.94 154.90,194.17 155.60,195.11 156.30,198.00 157.00,197.55 157.70,198.51 158.40,201.28 159.10,201.97 159.80,202.46 160.50,202.67 161.20,202.53 161.90,203.28 162.60,203.38 163.30,203.41 164.00,203.32 164.70,203.42 165.40,203.44 166.10,203.39 166.80,203.44 167.50,203.49 168.20,203.45 168.90,203.49 169.60,203.49 170.30,203.48 171.00,203.48 171.70,203.46 172.40,203.52 173.10,203.47 173.80,203.47 174.50,203.51 175.20,203.48 175.90,203.51 176.60,203.53 177.30,203.50 178.00,203.50 178.70,203.52 179.40,203.52 180.10,203.46 180.80,203.47 181.50,203.53 182.20,203.51 182.90,203.45 183.60,203.47 184.30,203.50 185.00,203.48 185.70,203.51 186.40,203.50 187.10,203.51 187.80,203.47 188.50,203.52 189.20,203.55 189.90,203.48 190.60,203.53 191.30,203.53 192.00,203.52 192.70,203.50 193.40,203.47 194.10,203.48 194.80,203.52 195.50,203.53 196.20,203.53 196.90,203.52 197.60,203.52 198.30,203.49 199.00,203.47 199.70,203.51 200.40,203.51 201.10,203.50 201.80,203.46 202.50,203.49 203.20,203.46 203.90,203.50 204.60,203.47 205.30,203.50 206.00,203.51 206.70,203.50 207.40,203.53 208.10,203.47 208.80,203.45" fill="none" stroke="#111" stroke-width="0.85" stroke-linejoin="round" />
<line x1="64.60" y1="173.00" x2="71.50" y2="166.20" stroke="#111" stroke-width="1.0"/>
<text x="72.30" y="168.50" font-size="10.2" text-anchor="start" font-weight="normal" fill="#1a1a1a" stroke="#1a1a1a" stroke-width="0.1" >Parental</text>
<line x1="135.80" y1="138.80" x2="155.40" y2="138.80" stroke="#111" stroke-width="1.8"/>
<text x="159.60" y="141.90" font-size="10.2" text-anchor="start" font-weight="normal" fill="#111" stroke="#111" stroke-width="0.1" >- CXCR4</text>
<line x1="135.80" y1="151.50" x2="155.40" y2="151.50" stroke="#8a8a8a" stroke-width="1.4"/>
<text x="158.30" y="154.50" font-size="10.2" text-anchor="start" font-weight="normal" fill="#8a8a8a" stroke="#8a8a8a" stroke-width="0.1" >+ CXCR4</text>
<text x="243.90" y="15.30" font-size="19.5" text-anchor="start" font-weight="bold" fill="#111" stroke="#111" stroke-width="0.2" >B</text>
<line x1="349.00" y1="13.60" x2="349.00" y2="166.60" stroke="#111" stroke-width="1.5"/>
<line x1="348.30" y1="166.30" x2="500.00" y2="166.30" stroke="#111" stroke-width="1.6"/>
<line x1="344.40" y1="165.80" x2="349.00" y2="165.80" stroke="#111" stroke-width="1.2"/>
<text x="342.20" y="169.40" font-size="10.2" text-anchor="end" font-weight="normal" fill="#1a1a1a" stroke="#1a1a1a" stroke-width="0.1" >0</text>
<line x1="344.40" y1="140.52" x2="349.00" y2="140.52" stroke="#111" stroke-width="1.2"/>
<text x="342.20" y="144.12" font-size="10.2" text-anchor="end" font-weight="normal" fill="#1a1a1a" stroke="#1a1a1a" stroke-width="0.1" >25</text>
<line x1="344.40" y1="115.24" x2="349.00" y2="115.24" stroke="#111" stroke-width="1.2"/>
<text x="342.20" y="118.84" font-size="10.2" text-anchor="end" font-weight="normal" fill="#1a1a1a" stroke="#1a1a1a" stroke-width="0.1" >50</text>
<line x1="344.40" y1="89.95" x2="349.00" y2="89.95" stroke="#111" stroke-width="1.2"/>
<text x="342.20" y="93.55" font-size="10.2" text-anchor="end" font-weight="normal" fill="#1a1a1a" stroke="#1a1a1a" stroke-width="0.1" >75</text>
<line x1="344.40" y1="64.67" x2="349.00" y2="64.67" stroke="#111" stroke-width="1.2"/>
<text x="342.20" y="68.27" font-size="10.2" text-anchor="end" font-weight="normal" fill="#1a1a1a" stroke="#1a1a1a" stroke-width="0.1" >100</text>
<line x1="344.40" y1="39.39" x2="349.00" y2="39.39" stroke="#111" stroke-width="1.2"/>
<text x="342.20" y="42.99" font-size="10.2" text-anchor="end" font-weight="normal" fill="#1a1a1a" stroke="#1a1a1a" stroke-width="0.1" >125</text>
<line x1="344.40" y1="14.10" x2="349.00" y2="14.10" stroke="#111" stroke-width="1.2"/>
<text x="342.20" y="17.70" font-size="10.2" text-anchor="end" font-weight="normal" fill="#1a1a1a" stroke="#1a1a1a" stroke-width="0.1" >150</text>
<text transform="translate(306.2,92.7) rotate(-90)" font-size="11.45" text-anchor="middle" fill="#1a1a1a" stroke="#1a1a1a" stroke-width="0.1">Bound <tspan dy="-4.4" font-size="8.0">35</tspan><tspan dy="4.4">S-GTP</tspan><tspan dy="1.2" font-size="8.2">γ</tspan><tspan dy="-1.2">S</tspan></text>
<text transform="translate(317.6,92.4) rotate(-90)" font-size="11.45" text-anchor="middle" fill="#1a1a1a" stroke="#1a1a1a" stroke-width="0.1">(% of basal binding)</text>
<line x1="358.00" y1="142.00" x2="358.00" y2="143.05" stroke="#111" stroke-width="1.2"/>
<line x1="354.70" y1="142.00" x2="361.30" y2="142.00" stroke="#111" stroke-width="1.3"/>
<rect x="352.00" y="143.05" width="12.0" height="22.95" fill="#fff" stroke="#555" stroke-width="1.1"/>
<line x1="376.83" y1="124.30" x2="376.83" y2="130.40" stroke="#111" stroke-width="1.2"/>
<line x1="373.53" y1="124.30" x2="380.13" y2="124.30" stroke="#111" stroke-width="1.3"/>
<rect x="370.83" y="130.40" width="12.0" height="35.60" fill="#cfcfcf" stroke="#666" stroke-width="1.1"/>
<line x1="395.66" y1="30.30" x2="395.66" y2="35.34" stroke="#111" stroke-width="1.2"/>
<line x1="392.36" y1="30.30" x2="398.96" y2="30.30" stroke="#111" stroke-width="1.3"/>
<rect x="389.66" y="35.34" width="12.0" height="130.66" fill="#636363" stroke="#444" stroke-width="1.1"/>
<line x1="414.49" y1="19.20" x2="414.49" y2="30.29" stroke="#111" stroke-width="1.2"/>
<line x1="411.19" y1="19.20" x2="417.79" y2="19.20" stroke="#111" stroke-width="1.3"/>
<rect x="408.49" y="30.29" width="12.0" height="135.71" fill="#1a1a1a" stroke="#111" stroke-width="1.1"/>
<line x1="433.32" y1="104.20" x2="433.32" y2="106.64" stroke="#111" stroke-width="1.2"/>
<line x1="430.02" y1="104.20" x2="436.62" y2="104.20" stroke="#111" stroke-width="1.3"/>
<rect x="427.32" y="106.64" width="12.0" height="59.36" fill="url(#chk)" stroke="#333" stroke-width="1.1"/>
<line x1="452.15" y1="126.00" x2="452.15" y2="130.91" stroke="#111" stroke-width="1.2"/>
<line x1="448.85" y1="126.00" x2="455.45" y2="126.00" stroke="#111" stroke-width="1.3"/>
<rect x="446.15" y="130.91" width="12.0" height="35.09" fill="url(#chk)" stroke="#333" stroke-width="1.1"/>
<line x1="470.98" y1="14.40" x2="470.98" y2="17.14" stroke="#111" stroke-width="1.2"/>
<line x1="467.68" y1="14.40" x2="474.28" y2="14.40" stroke="#111" stroke-width="1.3"/>
<rect x="464.98" y="17.14" width="12.0" height="148.86" fill="url(#hatch)" stroke="#222" stroke-width="1.1"/>
<line x1="489.81" y1="15.30" x2="489.81" y2="27.25" stroke="#111" stroke-width="1.2"/>
<line x1="486.51" y1="15.30" x2="493.11" y2="15.30" stroke="#111" stroke-width="1.3"/>
<rect x="483.81" y="27.25" width="12.0" height="138.75" fill="url(#hatch)" stroke="#222" stroke-width="1.1"/>
<text x="433.20" y="105.30" font-size="14.5" text-anchor="middle" font-weight="normal" fill="#111" stroke="#111" stroke-width="0.5" >*</text>
<text x="451.60" y="127.40" font-size="14.5" text-anchor="middle" font-weight="normal" fill="#111" stroke="#111" stroke-width="0.5" >*</text>
<text x="243.60" y="185.90" font-size="11.5" text-anchor="start" font-weight="normal" fill="#1a1a1a" stroke="#1a1a1a" stroke-width="0.1" >CXCR4</text>
<text x="358.50" y="183.40" font-size="11.4" text-anchor="middle" font-weight="normal" fill="#1a1a1a" stroke="#1a1a1a" stroke-width="0.35" >-</text>
<text x="377.33" y="183.40" font-size="11.4" text-anchor="middle" font-weight="normal" fill="#1a1a1a" stroke="#1a1a1a" stroke-width="0.35" >-</text>
<text x="396.16" y="183.40" font-size="11.4" text-anchor="middle" font-weight="normal" fill="#1a1a1a" stroke="#1a1a1a" stroke-width="0.35" >+</text>
<text x="414.99" y="183.40" font-size="11.4" text-anchor="middle" font-weight="normal" fill="#1a1a1a" stroke="#1a1a1a" stroke-width="0.35" >+</text>
<text x="433.82" y="183.40" font-size="11.4" text-anchor="middle" font-weight="normal" fill="#1a1a1a" stroke="#1a1a1a" stroke-width="0.35" >+</text>
<text x="452.65" y="183.40" font-size="11.4" text-anchor="middle" font-weight="normal" fill="#1a1a1a" stroke="#1a1a1a" stroke-width="0.35" >+</text>
<text x="471.48" y="183.40" font-size="11.4" text-anchor="middle" font-weight="normal" fill="#1a1a1a" stroke="#1a1a1a" stroke-width="0.35" >+</text>
<text x="490.31" y="183.40" font-size="11.4" text-anchor="middle" font-weight="normal" fill="#1a1a1a" stroke="#1a1a1a" stroke-width="0.35" >+</text>
<text x="243.60" y="201.20" font-size="11.5" text-anchor="start" font-weight="normal" fill="#1a1a1a" stroke="#1a1a1a" stroke-width="0.1" >CXCR7</text>
<text x="358.50" y="199.80" font-size="11.4" text-anchor="middle" font-weight="normal" fill="#1a1a1a" stroke="#1a1a1a" stroke-width="0.35" >-</text>
<text x="377.33" y="199.80" font-size="11.4" text-anchor="middle" font-weight="normal" fill="#1a1a1a" stroke="#1a1a1a" stroke-width="0.35" >+</text>
<text x="396.16" y="199.80" font-size="11.4" text-anchor="middle" font-weight="normal" fill="#1a1a1a" stroke="#1a1a1a" stroke-width="0.35" >-</text>
<text x="414.99" y="199.80" font-size="11.4" text-anchor="middle" font-weight="normal" fill="#1a1a1a" stroke="#1a1a1a" stroke-width="0.35" >+</text>
<text x="433.82" y="199.80" font-size="11.4" text-anchor="middle" font-weight="normal" fill="#1a1a1a" stroke="#1a1a1a" stroke-width="0.35" >+</text>
<text x="452.65" y="199.80" font-size="11.4" text-anchor="middle" font-weight="normal" fill="#1a1a1a" stroke="#1a1a1a" stroke-width="0.35" >+</text>
<text x="471.48" y="199.80" font-size="11.4" text-anchor="middle" font-weight="normal" fill="#1a1a1a" stroke="#1a1a1a" stroke-width="0.35" >+</text>
<text x="490.31" y="199.80" font-size="11.4" text-anchor="middle" font-weight="normal" fill="#1a1a1a" stroke="#1a1a1a" stroke-width="0.35" >+</text>
<text x="243.60" y="217.10" font-size="11.25" text-anchor="start" font-weight="normal" fill="#1a1a1a" stroke="#1a1a1a" stroke-width="0.1" >anti-CXCR4 (<tspan font-style="italic">μ</tspan>g/mL)</text>
<text x="358.50" y="216.50" font-size="11.4" text-anchor="middle" font-weight="normal" fill="#1a1a1a" stroke="#1a1a1a" stroke-width="0.35" >-</text>
<text x="377.33" y="216.50" font-size="11.4" text-anchor="middle" font-weight="normal" fill="#1a1a1a" stroke="#1a1a1a" stroke-width="0.35" >-</text>
<text x="396.16" y="216.50" font-size="11.4" text-anchor="middle" font-weight="normal" fill="#1a1a1a" stroke="#1a1a1a" stroke-width="0.35" >-</text>
<text x="414.99" y="216.50" font-size="11.4" text-anchor="middle" font-weight="normal" fill="#1a1a1a" stroke="#1a1a1a" stroke-width="0.35" >-</text>
<text x="434.32" y="216.50" font-size="11.5" text-anchor="middle" font-weight="normal" fill="#1a1a1a" stroke="#1a1a1a" stroke-width="0.1" >10</text>
<text x="453.15" y="216.50" font-size="11.5" text-anchor="middle" font-weight="normal" fill="#1a1a1a" stroke="#1a1a1a" stroke-width="0.1" >50</text>
<text x="471.48" y="216.50" font-size="11.4" text-anchor="middle" font-weight="normal" fill="#1a1a1a" stroke="#1a1a1a" stroke-width="0.35" >-</text>
<text x="490.31" y="216.50" font-size="11.4" text-anchor="middle" font-weight="normal" fill="#1a1a1a" stroke="#1a1a1a" stroke-width="0.35" >-</text>
<text x="243.60" y="232.60" font-size="11.25" text-anchor="start" font-weight="normal" fill="#1a1a1a" stroke="#1a1a1a" stroke-width="0.1" >anti-CXCR7 (<tspan font-style="italic">μ</tspan>g/mL)</text>
<text x="358.50" y="232.20" font-size="11.4" text-anchor="middle" font-weight="normal" fill="#1a1a1a" stroke="#1a1a1a" stroke-width="0.35" >-</text>
<text x="377.33" y="232.20" font-size="11.4" text-anchor="middle" font-weight="normal" fill="#1a1a1a" stroke="#1a1a1a" stroke-width="0.35" >-</text>
<text x="396.16" y="232.20" font-size="11.4" text-anchor="middle" font-weight="normal" fill="#1a1a1a" stroke="#1a1a1a" stroke-width="0.35" >-</text>
<text x="414.99" y="232.20" font-size="11.4" text-anchor="middle" font-weight="normal" fill="#1a1a1a" stroke="#1a1a1a" stroke-width="0.35" >-</text>
<text x="433.82" y="232.20" font-size="11.4" text-anchor="middle" font-weight="normal" fill="#1a1a1a" stroke="#1a1a1a" stroke-width="0.35" >-</text>
<text x="452.65" y="232.20" font-size="11.4" text-anchor="middle" font-weight="normal" fill="#1a1a1a" stroke="#1a1a1a" stroke-width="0.35" >-</text>
<text x="471.98" y="232.20" font-size="11.5" text-anchor="middle" font-weight="normal" fill="#1a1a1a" stroke="#1a1a1a" stroke-width="0.1" >10</text>
<text x="490.81" y="232.20" font-size="11.5" text-anchor="middle" font-weight="normal" fill="#1a1a1a" stroke="#1a1a1a" stroke-width="0.1" >50</text>
<text x="0.60" y="303.40" font-size="19.5" text-anchor="start" font-weight="bold" fill="#111" stroke="#111" stroke-width="0.2" >C</text>
<line x1="47.20" y1="316.60" x2="47.20" y2="493.70" stroke="#111" stroke-width="1.5"/>
<line x1="46.50" y1="493.00" x2="233.00" y2="493.00" stroke="#111" stroke-width="1.5"/>
<line x1="43.00" y1="473.40" x2="47.20" y2="473.40" stroke="#111" stroke-width="1.2"/>
<text x="41.30" y="476.60" font-size="11.6" text-anchor="end" font-weight="normal" fill="#1a1a1a" stroke="#1a1a1a" stroke-width="0.1" >0</text>
<line x1="43.00" y1="434.42" x2="47.20" y2="434.42" stroke="#111" stroke-width="1.2"/>
<text x="41.30" y="437.62" font-size="11.6" text-anchor="end" font-weight="normal" fill="#1a1a1a" stroke="#1a1a1a" stroke-width="0.1" >40</text>
<line x1="43.00" y1="395.45" x2="47.20" y2="395.45" stroke="#111" stroke-width="1.2"/>
<text x="41.30" y="398.65" font-size="11.6" text-anchor="end" font-weight="normal" fill="#1a1a1a" stroke="#1a1a1a" stroke-width="0.1" >80</text>
<line x1="43.00" y1="356.47" x2="47.20" y2="356.47" stroke="#111" stroke-width="1.2"/>
<text x="41.30" y="359.67" font-size="11.6" text-anchor="end" font-weight="normal" fill="#1a1a1a" stroke="#1a1a1a" stroke-width="0.1" >120</text>
<line x1="43.00" y1="317.50" x2="47.20" y2="317.50" stroke="#111" stroke-width="1.2"/>
<text x="41.30" y="320.70" font-size="11.6" text-anchor="end" font-weight="normal" fill="#1a1a1a" stroke="#1a1a1a" stroke-width="0.1" >160</text>
<line x1="56.00" y1="493.00" x2="56.00" y2="497.80" stroke="#111" stroke-width="1.2"/>
<text x="55.70" y="508.60" font-size="11.5" text-anchor="middle" font-weight="normal" fill="#1a1a1a" stroke="#1a1a1a" stroke-width="0.1" >-10</text>
<line x1="100.10" y1="493.00" x2="100.10" y2="497.80" stroke="#111" stroke-width="1.2"/>
<text x="99.80" y="508.60" font-size="11.5" text-anchor="middle" font-weight="normal" fill="#1a1a1a" stroke="#1a1a1a" stroke-width="0.1" >-9</text>
<line x1="144.20" y1="493.00" x2="144.20" y2="497.80" stroke="#111" stroke-width="1.2"/>
<text x="143.90" y="508.60" font-size="11.5" text-anchor="middle" font-weight="normal" fill="#1a1a1a" stroke="#1a1a1a" stroke-width="0.1" >-8</text>
<line x1="188.30" y1="493.00" x2="188.30" y2="497.80" stroke="#111" stroke-width="1.2"/>
<text x="188.00" y="508.60" font-size="11.5" text-anchor="middle" font-weight="normal" fill="#1a1a1a" stroke="#1a1a1a" stroke-width="0.1" >-7</text>
<line x1="232.40" y1="493.00" x2="232.40" y2="497.80" stroke="#111" stroke-width="1.2"/>
<text x="232.10" y="508.60" font-size="11.5" text-anchor="middle" font-weight="normal" fill="#1a1a1a" stroke="#1a1a1a" stroke-width="0.1" >-6</text>
<text x="139.90" y="527.70" font-size="13" text-anchor="middle" font-weight="normal" fill="#1a1a1a" stroke="#1a1a1a" stroke-width="0.1" >CXCL12 (log, M)</text>
<text transform="translate(13.8,402.4) rotate(-90)" font-size="13.0" text-anchor="middle" fill="#1a1a1a" stroke="#1a1a1a" stroke-width="0.1">(% of basal binding)</text>
<polyline points="56.00,482.99 56.78,482.96 57.55,482.92 58.33,482.88 59.10,482.84 59.88,482.80 60.65,482.75 61.43,482.71 62.21,482.66 62.98,482.61 63.76,482.56 64.53,482.50 65.31,482.45 66.08,482.39 66.86,482.33 67.63,482.27 68.41,482.20 69.19,482.13 69.96,482.06 70.74,481.99 71.51,481.91 72.29,481.83 73.06,481.75 73.84,481.66 74.62,481.57 75.39,481.48 76.17,481.38 76.94,481.28 77.72,481.18 78.49,481.07 79.27,480.95 80.04,480.84 80.82,480.71 81.60,480.59 82.37,480.45 83.15,480.32 83.92,480.17 84.70,480.02 85.47,479.87 86.25,479.71 87.03,479.54 87.80,479.37 88.58,479.19 89.35,479.00 90.13,478.81 90.90,478.61 91.68,478.40 92.45,478.18 93.23,477.96 94.01,477.72 94.78,477.48 95.56,477.23 96.33,476.97 97.11,476.70 97.88,476.42 98.66,476.13 99.44,475.82 100.21,475.51 100.99,475.19 101.76,474.85 102.54,474.50 103.31,474.14 104.09,473.77 104.86,473.38 105.64,472.98 106.42,472.57 107.19,472.14 107.97,471.70 108.74,471.24 109.52,470.76 110.29,470.27 111.07,469.77 111.85,469.24 112.62,468.70 113.40,468.15 114.17,467.57 114.95,466.98 115.72,466.37 116.50,465.73 117.27,465.08 118.05,464.41 118.83,463.72 119.60,463.01 120.38,462.28 121.15,461.52 121.93,460.75 122.70,459.95 123.48,459.14 124.26,458.30 125.03,457.43 125.81,456.55 126.58,455.64 127.36,454.71 128.13,453.76 128.91,452.78 129.68,451.79 130.46,450.77 131.24,449.72 132.01,448.66 132.79,447.57 133.56,446.46 134.34,445.33 135.11,444.17 135.89,443.00 136.67,441.80 137.44,440.59 138.22,439.35 138.99,438.10 139.77,436.82 140.54,435.53 141.32,434.22 142.09,432.90 142.87,431.55 143.65,430.20 144.42,428.82 145.20,427.44 145.97,426.04 146.75,424.63 147.52,423.22 148.30,421.79 149.08,420.35 149.85,418.91 150.63,417.46 151.40,416.01 152.18,414.55 152.95,413.09 153.73,411.63 154.50,410.16 155.28,408.70 156.06,407.25 156.83,405.79 157.61,404.34 158.38,402.90 159.16,401.46 159.93,400.03 160.71,398.61 161.49,397.20 162.26,395.81 163.04,394.42 163.81,393.05 164.59,391.69 165.36,390.34 166.14,389.02 166.91,387.70 167.69,386.41 168.47,385.14 169.24,383.88 170.02,382.64 170.79,381.42 171.57,380.22 172.34,379.05 173.12,377.89 173.90,376.76 174.67,375.65 175.45,374.55 176.22,373.49 177.00,372.44 177.77,371.42 178.55,370.42 179.32,369.44 180.10,368.49 180.88,367.55 181.65,366.64 182.43,365.76 183.20,364.89 183.98,364.05 184.75,363.23 185.53,362.43 186.31,361.66 187.08,360.90 187.86,360.17 188.63,359.45 189.41,358.76 190.18,358.09 190.96,357.43 191.73,356.80 192.51,356.19 193.29,355.59 194.06,355.01 194.84,354.45 195.61,353.91 196.39,353.39 197.16,352.88 197.94,352.39 198.72,351.91 199.49,351.45 200.27,351.01 201.04,350.58 201.82,350.16 202.59,349.76 203.37,349.37 204.14,349.00 204.92,348.63 205.70,348.28 206.47,347.95 207.25,347.62 208.02,347.31 208.80,347.01 209.57,346.71 210.35,346.43" fill="none" stroke="#111" stroke-width="1.3" stroke-linejoin="round" />
<polyline points="56.00,479.08 56.78,479.08 57.55,479.08 58.33,479.08 59.10,479.08 59.88,479.08 60.65,479.08 61.43,479.08 62.21,479.08 62.98,479.08 63.76,479.08 64.53,479.08 65.31,479.08 66.08,479.08 66.86,479.08 67.63,479.08 68.41,479.08 69.19,479.08 69.96,479.08 70.74,479.08 71.51,479.08 72.29,479.08 73.06,479.08 73.84,479.08 74.62,479.08 75.39,479.08 76.17,479.08 76.94,479.08 77.72,479.08 78.49,479.08 79.27,479.08 80.04,479.08 80.82,479.08 81.60,479.08 82.37,479.08 83.15,479.08 83.92,479.08 84.70,479.08 85.47,479.08 86.25,479.08 87.03,479.08 87.80,479.08 88.58,479.08 89.35,479.08 90.13,479.08 90.90,479.08 91.68,479.08 92.45,479.08 93.23,479.08 94.01,479.08 94.78,479.08 95.56,479.08 96.33,479.08 97.11,479.08 97.88,479.08 98.66,479.08 99.44,479.08 100.21,479.08 100.99,479.08 101.76,479.08 102.54,479.08 103.31,479.08 104.09,479.08 104.86,479.08 105.64,479.08 106.42,479.08 107.19,479.08 107.97,479.08 108.74,479.08 109.52,479.08 110.29,479.08 111.07,479.08 111.85,479.08 112.62,479.08 113.40,479.08 114.17,479.08 114.95,479.08 115.72,479.08 116.50,479.08 117.27,479.08 118.05,479.08 118.83,479.08 119.60,479.08 120.38,479.08 121.15,479.08 121.93,479.08 122.70,479.08 123.48,479.08 124.26,479.08 125.03,479.08 125.81,479.08 126.58,479.07 127.36,479.07 128.13,479.07 128.91,479.07 129.68,479.07 130.46,479.07 131.24,479.06 132.01,479.06 132.79,479.06 133.56,479.06 134.34,479.05 135.11,479.05 135.89,479.04 136.67,479.04 137.44,479.03 138.22,479.02 138.99,479.01 139.77,479.00 140.54,478.99 141.32,478.97 142.09,478.96 142.87,478.94 143.65,478.91 144.42,478.89 145.20,478.85 145.97,478.82 146.75,478.78 147.52,478.73 148.30,478.67 149.08,478.61 149.85,478.53 150.63,478.45 151.40,478.35 152.18,478.23 152.95,478.09 153.73,477.94 154.50,477.76 155.28,477.55 156.06,477.31 156.83,477.03 157.61,476.71 158.38,476.34 159.16,475.91 159.93,475.42 160.71,474.85 161.49,474.20 162.26,473.45 163.04,472.59 163.81,471.61 164.59,470.48 165.36,469.20 166.14,467.74 166.91,466.09 167.69,464.22 168.47,462.11 169.24,459.75 170.02,457.11 170.79,454.17 171.57,450.93 172.34,447.36 173.12,443.47 173.90,439.26 174.67,434.73 175.45,429.91 176.22,424.82 177.00,419.50 177.77,414.00 178.55,408.36 179.32,402.65 180.10,396.93 180.88,391.25 181.65,385.69 182.43,380.29 183.20,375.10 183.98,370.17 184.75,365.52 185.53,361.18 186.31,357.16 187.08,353.47 187.86,350.10 188.63,347.04 189.41,344.28 190.18,341.81 190.96,339.60 191.73,337.64 192.51,335.90 193.29,334.37 194.06,333.02 194.84,331.83 195.61,330.80 196.39,329.89 197.16,329.10 197.94,328.41 198.72,327.81 199.49,327.29 200.27,326.83 201.04,326.44 201.82,326.10 202.59,325.81 203.37,325.55 204.14,325.33 204.92,325.14 205.70,324.97 206.47,324.83 207.25,324.71 208.02,324.60 208.80,324.51 209.57,324.43 210.35,324.36" fill="none" stroke="#111" stroke-width="1.3" stroke-linejoin="round" />
<circle cx="56.00" cy="481" r="2.8" fill="#fff" stroke="#111" stroke-width="1.1"/>
<line x1="100.10" y1="478.00" x2="100.10" y2="484.00" stroke="#111" stroke-width="1.0"/>
<line x1="97.30" y1="478.00" x2="102.90" y2="478.00" stroke="#111" stroke-width="1.0"/>
<line x1="97.30" y1="484.00" x2="102.90" y2="484.00" stroke="#111" stroke-width="1.0"/>
<circle cx="100.10" cy="481" r="2.8" fill="#fff" stroke="#111" stroke-width="1.1"/>
<circle cx="122.15" cy="479" r="2.8" fill="#fff" stroke="#111" stroke-width="1.1"/>
<line x1="144.20" y1="472.10" x2="144.20" y2="478.10" stroke="#111" stroke-width="1.0"/>
<line x1="141.40" y1="472.10" x2="147.00" y2="472.10" stroke="#111" stroke-width="1.0"/>
<line x1="141.40" y1="478.10" x2="147.00" y2="478.10" stroke="#111" stroke-width="1.0"/>
<circle cx="144.20" cy="475.1" r="2.8" fill="#fff" stroke="#111" stroke-width="1.1"/>
<circle cx="166.25" cy="467.7" r="2.8" fill="#fff" stroke="#111" stroke-width="1.1"/>
<line x1="188.30" y1="338.80" x2="188.30" y2="357.80" stroke="#111" stroke-width="1.0"/>
<line x1="185.50" y1="338.80" x2="191.10" y2="338.80" stroke="#111" stroke-width="1.0"/>
<line x1="185.50" y1="357.80" x2="191.10" y2="357.80" stroke="#111" stroke-width="1.0"/>
<circle cx="188.30" cy="348.3" r="2.8" fill="#fff" stroke="#111" stroke-width="1.1"/>
<line x1="210.35" y1="319.80" x2="210.35" y2="329.40" stroke="#111" stroke-width="1.0"/>
<line x1="207.55" y1="319.80" x2="213.15" y2="319.80" stroke="#111" stroke-width="1.0"/>
<line x1="207.55" y1="329.40" x2="213.15" y2="329.40" stroke="#111" stroke-width="1.0"/>
<circle cx="210.35" cy="324.6" r="2.8" fill="#fff" stroke="#111" stroke-width="1.1"/>
<circle cx="56.00" cy="480" r="3.0" fill="#111"/>
<line x1="100.10" y1="474.30" x2="100.10" y2="482.30" stroke="#111" stroke-width="1.0"/>
<line x1="97.30" y1="474.30" x2="102.90" y2="474.30" stroke="#111" stroke-width="1.0"/>
<line x1="97.30" y1="482.30" x2="102.90" y2="482.30" stroke="#111" stroke-width="1.0"/>
<circle cx="100.10" cy="478.3" r="3.0" fill="#111"/>
<circle cx="122.15" cy="464.1" r="3.0" fill="#111"/>
<line x1="144.20" y1="418.20" x2="144.20" y2="425.60" stroke="#111" stroke-width="1.0"/>
<line x1="141.40" y1="418.20" x2="147.00" y2="418.20" stroke="#111" stroke-width="1.0"/>
<line x1="141.40" y1="425.60" x2="147.00" y2="425.60" stroke="#111" stroke-width="1.0"/>
<circle cx="144.20" cy="421.9" r="3.0" fill="#111"/>
<line x1="166.25" y1="391.10" x2="166.25" y2="398.50" stroke="#111" stroke-width="1.0"/>
<line x1="163.45" y1="391.10" x2="169.05" y2="391.10" stroke="#111" stroke-width="1.0"/>
<line x1="163.45" y1="398.50" x2="169.05" y2="398.50" stroke="#111" stroke-width="1.0"/>
<circle cx="166.25" cy="394.8" r="3.0" fill="#111"/>
<line x1="188.30" y1="352.30" x2="188.30" y2="361.90" stroke="#111" stroke-width="1.0"/>
<line x1="185.50" y1="352.30" x2="191.10" y2="352.30" stroke="#111" stroke-width="1.0"/>
<line x1="185.50" y1="361.90" x2="191.10" y2="361.90" stroke="#111" stroke-width="1.0"/>
<circle cx="188.30" cy="357.1" r="3.0" fill="#111"/>
<line x1="210.35" y1="342.10" x2="210.35" y2="351.70" stroke="#111" stroke-width="1.0"/>
<line x1="207.55" y1="342.10" x2="213.15" y2="342.10" stroke="#111" stroke-width="1.0"/>
<line x1="207.55" y1="351.70" x2="213.15" y2="351.70" stroke="#111" stroke-width="1.0"/>
<circle cx="210.35" cy="346.9" r="3.0" fill="#111"/>
<circle cx="56.6" cy="325.5" r="2.9" fill="#111"/>
<circle cx="56.6" cy="340.7" r="2.7" fill="#fff" stroke="#111" stroke-width="1.1"/>
<text x="70.40" y="329.20" font-size="11.7" text-anchor="start" font-weight="normal" fill="#1a1a1a" stroke="#1a1a1a" stroke-width="0.1" >CXCR4</text>
<text x="70.40" y="344.60" font-size="11.9" text-anchor="start" font-weight="normal" fill="#1a1a1a" stroke="#1a1a1a" stroke-width="0.1" >CXCR4/CXCR7</text>
<text x="261.60" y="303.00" font-size="19.5" text-anchor="start" font-weight="bold" fill="#111" stroke="#111" stroke-width="0.2" >D</text>
<line x1="321.30" y1="317.60" x2="321.30" y2="493.70" stroke="#111" stroke-width="1.5"/>
<line x1="320.60" y1="493.00" x2="513.82" y2="493.00" stroke="#111" stroke-width="1.5"/>
<line x1="316.40" y1="493.00" x2="321.30" y2="493.00" stroke="#111" stroke-width="1.2"/>
<text x="314.90" y="496.80" font-size="11.8" text-anchor="end" font-weight="normal" fill="#1a1a1a" stroke="#1a1a1a" stroke-width="0.1" >400</text>
<line x1="316.40" y1="449.36" x2="321.30" y2="449.36" stroke="#111" stroke-width="1.2"/>
<text x="314.90" y="453.16" font-size="11.8" text-anchor="end" font-weight="normal" fill="#1a1a1a" stroke="#1a1a1a" stroke-width="0.1" >800</text>
<line x1="316.40" y1="405.72" x2="321.30" y2="405.72" stroke="#111" stroke-width="1.2"/>
<text x="314.90" y="409.52" font-size="11.8" text-anchor="end" font-weight="normal" fill="#1a1a1a" stroke="#1a1a1a" stroke-width="0.1" >1200</text>
<line x1="316.40" y1="362.08" x2="321.30" y2="362.08" stroke="#111" stroke-width="1.2"/>
<text x="314.90" y="365.88" font-size="11.8" text-anchor="end" font-weight="normal" fill="#1a1a1a" stroke="#1a1a1a" stroke-width="0.1" >1600</text>
<line x1="316.40" y1="318.44" x2="321.30" y2="318.44" stroke="#111" stroke-width="1.2"/>
<text x="314.90" y="322.24" font-size="11.8" text-anchor="end" font-weight="normal" fill="#1a1a1a" stroke="#1a1a1a" stroke-width="0.1" >2000</text>
<line x1="330.70" y1="493.00" x2="330.70" y2="497.80" stroke="#111" stroke-width="1.2"/>
<text x="330.40" y="509.20" font-size="11.6" text-anchor="middle" font-weight="normal" fill="#1a1a1a" stroke="#1a1a1a" stroke-width="0.1" >-10</text>
<line x1="376.33" y1="493.00" x2="376.33" y2="497.80" stroke="#111" stroke-width="1.2"/>
<text x="376.03" y="509.20" font-size="11.6" text-anchor="middle" font-weight="normal" fill="#1a1a1a" stroke="#1a1a1a" stroke-width="0.1" >-9</text>
<line x1="421.96" y1="493.00" x2="421.96" y2="497.80" stroke="#111" stroke-width="1.2"/>
<text x="421.66" y="509.20" font-size="11.6" text-anchor="middle" font-weight="normal" fill="#1a1a1a" stroke="#1a1a1a" stroke-width="0.1" >-8</text>
<line x1="467.59" y1="493.00" x2="467.59" y2="497.80" stroke="#111" stroke-width="1.2"/>
<text x="467.29" y="509.20" font-size="11.6" text-anchor="middle" font-weight="normal" fill="#1a1a1a" stroke="#1a1a1a" stroke-width="0.1" >-7</text>
<line x1="513.22" y1="493.00" x2="513.22" y2="497.80" stroke="#111" stroke-width="1.2"/>
<text x="512.92" y="509.20" font-size="11.6" text-anchor="middle" font-weight="normal" fill="#1a1a1a" stroke="#1a1a1a" stroke-width="0.1" >-6</text>
<text x="417.00" y="526.60" font-size="13" text-anchor="middle" font-weight="normal" fill="#1a1a1a" stroke="#1a1a1a" stroke-width="0.1" >Agonist (log, M)</text>
<text transform="translate(274.3,406.8) rotate(-90)" font-size="13" text-anchor="middle" fill="#1a1a1a" stroke="#1a1a1a" stroke-width="0.1">Bound <tspan dy="-5.0" font-size="9.2">35</tspan><tspan dy="5.0">S-GTP</tspan><tspan dy="1.4" font-size="9.2">γ</tspan><tspan dy="-1.4">S (cpm x10)</tspan></text>
<polyline points="330.70,469.59 331.50,469.58 332.31,469.57 333.11,469.55 333.91,469.54 334.71,469.52 335.52,469.50 336.32,469.48 337.12,469.46 337.92,469.44 338.73,469.42 339.53,469.40 340.33,469.37 341.13,469.35 341.94,469.32 342.74,469.29 343.54,469.26 344.34,469.23 345.15,469.19 345.95,469.16 346.75,469.12 347.55,469.08 348.36,469.03 349.16,468.99 349.96,468.94 350.76,468.89 351.57,468.83 352.37,468.77 353.17,468.71 353.97,468.65 354.78,468.58 355.58,468.51 356.38,468.43 357.18,468.35 357.99,468.27 358.79,468.18 359.59,468.08 360.39,467.98 361.20,467.87 362.00,467.76 362.80,467.64 363.60,467.51 364.41,467.38 365.21,467.24 366.01,467.09 366.81,466.93 367.62,466.77 368.42,466.59 369.22,466.41 370.02,466.21 370.83,466.01 371.63,465.79 372.43,465.56 373.23,465.32 374.04,465.06 374.84,464.79 375.64,464.51 376.44,464.21 377.25,463.90 378.05,463.57 378.85,463.22 379.65,462.85 380.46,462.47 381.26,462.07 382.06,461.64 382.86,461.19 383.67,460.73 384.47,460.23 385.27,459.72 386.08,459.18 386.88,458.61 387.68,458.02 388.48,457.40 389.29,456.75 390.09,456.07 390.89,455.37 391.69,454.63 392.50,453.86 393.30,453.05 394.10,452.22 394.90,451.35 395.71,450.45 396.51,449.51 397.31,448.54 398.11,447.53 398.92,446.49 399.72,445.42 400.52,444.30 401.32,443.16 402.13,441.97 402.93,440.76 403.73,439.51 404.53,438.22 405.34,436.91 406.14,435.56 406.94,434.18 407.74,432.78 408.55,431.35 409.35,429.89 410.15,428.41 410.95,426.90 411.76,425.38 412.56,423.84 413.36,422.28 414.16,420.71 414.97,419.13 415.77,417.55 416.57,415.95 417.37,414.36 418.18,412.76 418.98,411.17 419.78,409.58 420.58,408.00 421.39,406.43 422.19,404.87 422.99,403.33 423.79,401.81 424.60,400.30 425.40,398.82 426.20,397.36 427.00,395.93 427.81,394.52 428.61,393.14 429.41,391.79 430.21,390.47 431.02,389.19 431.82,387.94 432.62,386.72 433.42,385.53 434.23,384.38 435.03,383.27 435.83,382.19 436.63,381.15 437.44,380.14 438.24,379.17 439.04,378.23 439.85,377.32 440.65,376.45 441.45,375.62 442.25,374.81 443.06,374.04 443.86,373.30 444.66,372.59 445.46,371.91 446.27,371.26 447.07,370.64 447.87,370.04 448.67,369.48 449.48,368.94 450.28,368.42 451.08,367.93 451.88,367.46 452.69,367.01 453.49,366.58 454.29,366.18 455.09,365.79 455.90,365.42 456.70,365.07 457.50,364.74 458.30,364.43 459.11,364.13 459.91,363.84 460.71,363.58 461.51,363.32 462.32,363.08 463.12,362.85 463.92,362.63 464.72,362.42 465.53,362.23 466.33,362.04 467.13,361.87 467.93,361.70 468.74,361.54 469.54,361.39 470.34,361.25 471.14,361.12 471.95,360.99 472.75,360.87 473.55,360.76 474.35,360.65 475.16,360.55 475.96,360.45 476.76,360.36 477.56,360.28 478.37,360.20 479.17,360.12 479.97,360.05 480.77,359.98 481.58,359.91 482.38,359.85 483.18,359.79 483.98,359.74 484.79,359.69 485.59,359.64 486.39,359.59 487.19,359.55 488.00,359.51 488.80,359.47 489.60,359.43 490.40,359.40" fill="none" stroke="#111" stroke-width="1.2" stroke-linejoin="round" />
<polyline points="330.70,471.83 331.50,471.83 332.31,471.83 333.11,471.82 333.91,471.82 334.71,471.82 335.52,471.82 336.32,471.82 337.12,471.82 337.92,471.82 338.73,471.81 339.53,471.81 340.33,471.81 341.13,471.81 341.94,471.80 342.74,471.80 343.54,471.80 344.34,471.79 345.15,471.79 345.95,471.79 346.75,471.78 347.55,471.78 348.36,471.77 349.16,471.76 349.96,471.76 350.76,471.75 351.57,471.74 352.37,471.73 353.17,471.72 353.97,471.71 354.78,471.70 355.58,471.68 356.38,471.67 357.18,471.65 357.99,471.63 358.79,471.61 359.59,471.59 360.39,471.57 361.20,471.54 362.00,471.51 362.80,471.48 363.60,471.44 364.41,471.40 365.21,471.36 366.01,471.31 366.81,471.26 367.62,471.20 368.42,471.14 369.22,471.07 370.02,470.99 370.83,470.91 371.63,470.81 372.43,470.71 373.23,470.60 374.04,470.48 374.84,470.34 375.64,470.20 376.44,470.03 377.25,469.86 378.05,469.66 378.85,469.45 379.65,469.21 380.46,468.96 381.26,468.67 382.06,468.37 382.86,468.03 383.67,467.66 384.47,467.25 385.27,466.81 386.08,466.33 386.88,465.80 387.68,465.23 388.48,464.61 389.29,463.93 390.09,463.19 390.89,462.39 391.69,461.52 392.50,460.58 393.30,459.56 394.10,458.46 394.90,457.27 395.71,456.00 396.51,454.63 397.31,453.16 398.11,451.60 398.92,449.92 399.72,448.15 400.52,446.26 401.32,444.27 402.13,442.17 402.93,439.96 403.73,437.64 404.53,435.23 405.34,432.72 406.14,430.12 406.94,427.45 407.74,424.69 408.55,421.88 409.35,419.02 410.15,416.11 410.95,413.18 411.76,410.24 412.56,407.30 413.36,404.37 414.16,401.46 414.97,398.60 415.77,395.79 416.57,393.04 417.37,390.37 418.18,387.77 418.98,385.27 419.78,382.86 420.58,380.55 421.39,378.34 422.19,376.25 422.99,374.26 423.79,372.38 424.60,370.61 425.40,368.94 426.20,367.38 427.00,365.91 427.81,364.55 428.61,363.28 429.41,362.10 430.21,361.00 431.02,359.99 431.82,359.05 432.62,358.18 433.42,357.38 434.23,356.65 435.03,355.97 435.83,355.35 436.63,354.78 437.44,354.25 438.24,353.77 439.04,353.33 439.85,352.93 440.65,352.56 441.45,352.23 442.25,351.92 443.06,351.64 443.86,351.38 444.66,351.15 445.46,350.93 446.27,350.74 447.07,350.56 447.87,350.40 448.67,350.25 449.48,350.12 450.28,350.00 451.08,349.89 451.88,349.79 452.69,349.69 453.49,349.61 454.29,349.53 455.09,349.46 455.90,349.40 456.70,349.34 457.50,349.29 458.30,349.24 459.11,349.20 459.91,349.16 460.71,349.13 461.51,349.09 462.32,349.06 463.12,349.04 463.92,349.01 464.72,348.99 465.53,348.97 466.33,348.95 467.13,348.94 467.93,348.92 468.74,348.91 469.54,348.89 470.34,348.88 471.14,348.87 471.95,348.86 472.75,348.85 473.55,348.85 474.35,348.84 475.16,348.83 475.96,348.83 476.76,348.82 477.56,348.82 478.37,348.81 479.17,348.81 479.97,348.81 480.77,348.80 481.58,348.80 482.38,348.80 483.18,348.79 483.98,348.79 484.79,348.79 485.59,348.79 486.39,348.79 487.19,348.78 488.00,348.78 488.80,348.78 489.60,348.78 490.40,348.78" fill="none" stroke="#111" stroke-width="1.2" stroke-linejoin="round" />
<polyline points="330.70,473.13 331.50,473.13 332.31,473.13 333.11,473.13 333.91,473.13 334.71,473.13 335.52,473.12 336.32,473.12 337.12,473.12 337.92,473.12 338.73,473.12 339.53,473.11 340.33,473.11 341.13,473.11 341.94,473.10 342.74,473.10 343.54,473.10 344.34,473.09 345.15,473.09 345.95,473.08 346.75,473.07 347.55,473.07 348.36,473.06 349.16,473.05 349.96,473.04 350.76,473.03 351.57,473.02 352.37,473.01 353.17,473.00 353.97,472.99 354.78,472.97 355.58,472.96 356.38,472.94 357.18,472.92 357.99,472.90 358.79,472.87 359.59,472.85 360.39,472.82 361.20,472.79 362.00,472.76 362.80,472.72 363.60,472.68 364.41,472.64 365.21,472.59 366.01,472.54 366.81,472.48 367.62,472.42 368.42,472.35 369.22,472.28 370.02,472.20 370.83,472.11 371.63,472.01 372.43,471.91 373.23,471.79 374.04,471.67 374.84,471.53 375.64,471.38 376.44,471.22 377.25,471.04 378.05,470.84 378.85,470.63 379.65,470.40 380.46,470.15 381.26,469.87 382.06,469.57 382.86,469.25 383.67,468.89 384.47,468.51 385.27,468.09 386.08,467.63 386.88,467.14 387.68,466.60 388.48,466.02 389.29,465.39 390.09,464.72 390.89,463.98 391.69,463.19 392.50,462.34 393.30,461.42 394.10,460.43 394.90,459.37 395.71,458.24 396.51,457.02 397.31,455.72 398.11,454.34 398.92,452.87 399.72,451.31 400.52,449.66 401.32,447.91 402.13,446.08 402.93,444.15 403.73,442.13 404.53,440.02 405.34,437.82 406.14,435.55 406.94,433.20 407.74,430.77 408.55,428.29 409.35,425.75 410.15,423.16 410.95,420.54 411.76,417.89 412.56,415.22 413.36,412.55 414.16,409.88 414.97,407.23 415.77,404.61 416.57,402.02 417.37,399.48 418.18,396.99 418.98,394.57 419.78,392.21 420.58,389.93 421.39,387.74 422.19,385.63 422.99,383.60 423.79,381.67 424.60,379.83 425.40,378.09 426.20,376.43 427.00,374.87 427.81,373.39 428.61,372.01 429.41,370.71 430.21,369.49 431.02,368.35 431.82,367.29 432.62,366.30 433.42,365.38 434.23,364.53 435.03,363.73 435.83,363.00 436.63,362.32 437.44,361.69 438.24,361.11 439.04,360.57 439.85,360.08 440.65,359.62 441.45,359.20 442.25,358.81 443.06,358.46 443.86,358.13 444.66,357.83 445.46,357.56 446.27,357.30 447.07,357.07 447.87,356.86 448.67,356.66 449.48,356.48 450.28,356.32 451.08,356.17 451.88,356.03 452.69,355.91 453.49,355.79 454.29,355.68 455.09,355.59 455.90,355.50 456.70,355.42 457.50,355.34 458.30,355.28 459.11,355.21 459.91,355.16 460.71,355.11 461.51,355.06 462.32,355.01 463.12,354.97 463.92,354.94 464.72,354.91 465.53,354.87 466.33,354.85 467.13,354.82 467.93,354.80 468.74,354.78 469.54,354.76 470.34,354.74 471.14,354.72 471.95,354.71 472.75,354.70 473.55,354.68 474.35,354.67 475.16,354.66 475.96,354.65 476.76,354.64 477.56,354.64 478.37,354.63 479.17,354.62 479.97,354.62 480.77,354.61 481.58,354.61 482.38,354.60 483.18,354.60 483.98,354.59 484.79,354.59 485.59,354.59 486.39,354.58 487.19,354.58 488.00,354.58 488.80,354.58 489.60,354.57 490.40,354.57" fill="none" stroke="#111" stroke-width="1.2" stroke-linejoin="round" />
<polyline points="330.70,478.82 331.50,478.82 332.31,478.82 333.11,478.82 333.91,478.82 334.71,478.82 335.52,478.82 336.32,478.82 337.12,478.82 337.92,478.82 338.73,478.82 339.53,478.82 340.33,478.82 341.13,478.82 341.94,478.82 342.74,478.82 343.54,478.82 344.34,478.82 345.15,478.82 345.95,478.82 346.75,478.82 347.55,478.82 348.36,478.82 349.16,478.82 349.96,478.82 350.76,478.82 351.57,478.82 352.37,478.82 353.17,478.82 353.97,478.82 354.78,478.82 355.58,478.82 356.38,478.82 357.18,478.82 357.99,478.82 358.79,478.82 359.59,478.82 360.39,478.82 361.20,478.82 362.00,478.82 362.80,478.82 363.60,478.82 364.41,478.82 365.21,478.82 366.01,478.82 366.81,478.82 367.62,478.82 368.42,478.82 369.22,478.82 370.02,478.82 370.83,478.82 371.63,478.82 372.43,478.82 373.23,478.82 374.04,478.82 374.84,478.82 375.64,478.82 376.44,478.82 377.25,478.82 378.05,478.82 378.85,478.82 379.65,478.82 380.46,478.82 381.26,478.82 382.06,478.82 382.86,478.82 383.67,478.82 384.47,478.82 385.27,478.82 386.08,478.82 386.88,478.82 387.68,478.82 388.48,478.82 389.29,478.82 390.09,478.82 390.89,478.82 391.69,478.82 392.50,478.82 393.30,478.82 394.10,478.82 394.90,478.82 395.71,478.82 396.51,478.82 397.31,478.82 398.11,478.82 398.92,478.82 399.72,478.82 400.52,478.82 401.32,478.82 402.13,478.82 402.93,478.82 403.73,478.82 404.53,478.82 405.34,478.82 406.14,478.82 406.94,478.81 407.74,478.81 408.55,478.81 409.35,478.81 410.15,478.81 410.95,478.81 411.76,478.81 412.56,478.81 413.36,478.81 414.16,478.80 414.97,478.80 415.77,478.80 416.57,478.79 417.37,478.79 418.18,478.78 418.98,478.78 419.78,478.77 420.58,478.76 421.39,478.75 422.19,478.73 422.99,478.71 423.79,478.69 424.60,478.66 425.40,478.63 426.20,478.59 427.00,478.54 427.81,478.48 428.61,478.41 429.41,478.32 430.21,478.21 431.02,478.08 431.82,477.93 432.62,477.74 433.42,477.51 434.23,477.23 435.03,476.90 435.83,476.50 436.63,476.01 437.44,475.43 438.24,474.73 439.04,473.89 439.85,472.88 440.65,471.69 441.45,470.27 442.25,468.60 443.06,466.64 443.86,464.35 444.66,461.71 445.46,458.68 446.27,455.23 447.07,451.37 447.87,447.10 448.67,442.43 449.48,437.42 450.28,432.12 451.08,426.62 451.88,421.01 452.69,415.40 453.49,409.90 454.29,404.59 455.09,399.57 455.90,394.89 456.70,390.61 457.50,386.74 458.30,383.28 459.11,380.24 459.91,377.59 460.71,375.29 461.51,373.32 462.32,371.65 463.12,370.22 463.92,369.02 464.72,368.01 465.53,367.17 466.33,366.47 467.13,365.88 467.93,365.39 468.74,364.99 469.54,364.65 470.34,364.37 471.14,364.14 471.95,363.95 472.75,363.80 473.55,363.67 474.35,363.56 475.16,363.47 475.96,363.40 476.76,363.34 477.56,363.29 478.37,363.25 479.17,363.22 479.97,363.19 480.77,363.17 481.58,363.15 482.38,363.13 483.18,363.12 483.98,363.11 484.79,363.10 485.59,363.09 486.39,363.09 487.19,363.08 488.00,363.08 488.80,363.08 489.60,363.07 490.40,363.07" fill="none" stroke="#111" stroke-width="1.2" stroke-linejoin="round" />
<line x1="489.49" y1="336.60" x2="489.49" y2="347.00" stroke="#111" stroke-width="1.0"/>
<line x1="486.49" y1="336.60" x2="492.49" y2="336.60" stroke="#111" stroke-width="1.0"/>
<line x1="486.49" y1="347.00" x2="492.49" y2="347.00" stroke="#111" stroke-width="1.0"/>
<line x1="443.86" y1="355.00" x2="443.86" y2="369.70" stroke="#111" stroke-width="1.0"/>
<line x1="440.86" y1="355.00" x2="446.86" y2="355.00" stroke="#111" stroke-width="1.0"/>
<line x1="440.86" y1="369.70" x2="446.86" y2="369.70" stroke="#111" stroke-width="1.0"/>
<rect x="328.50" y="478.80" width="4.4" height="4.4" fill="#fff" stroke="#111" stroke-width="0.9"/>
<line x1="330.70" y1="478.80" x2="330.70" y2="483.20" stroke="#111" stroke-width="0.8"/>
<rect x="374.13" y="482.60" width="4.4" height="4.4" fill="#fff" stroke="#111" stroke-width="0.9"/>
<line x1="376.33" y1="482.60" x2="376.33" y2="487.00" stroke="#111" stroke-width="0.8"/>
<rect x="396.03" y="480.10" width="4.4" height="4.4" fill="#fff" stroke="#111" stroke-width="0.9"/>
<line x1="398.23" y1="480.10" x2="398.23" y2="484.50" stroke="#111" stroke-width="0.8"/>
<rect x="409.72" y="473.00" width="4.4" height="4.4" fill="#fff" stroke="#111" stroke-width="0.9"/>
<line x1="411.92" y1="473.00" x2="411.92" y2="477.40" stroke="#111" stroke-width="0.8"/>
<rect x="419.76" y="465.50" width="4.4" height="4.4" fill="#fff" stroke="#111" stroke-width="0.9"/>
<line x1="421.96" y1="465.50" x2="421.96" y2="469.90" stroke="#111" stroke-width="0.8"/>
<rect x="441.66" y="460.80" width="4.4" height="4.4" fill="#fff" stroke="#111" stroke-width="0.9"/>
<line x1="443.86" y1="460.80" x2="443.86" y2="465.20" stroke="#111" stroke-width="0.8"/>
<rect x="455.35" y="381.80" width="4.4" height="4.4" fill="#fff" stroke="#111" stroke-width="0.9"/>
<line x1="457.55" y1="381.80" x2="457.55" y2="386.20" stroke="#111" stroke-width="0.8"/>
<rect x="465.39" y="360.20" width="4.4" height="4.4" fill="#fff" stroke="#111" stroke-width="0.9"/>
<line x1="467.59" y1="360.20" x2="467.59" y2="364.60" stroke="#111" stroke-width="0.8"/>
<rect x="487.29" y="361.50" width="4.4" height="4.4" fill="#fff" stroke="#111" stroke-width="0.9"/>
<line x1="489.49" y1="361.50" x2="489.49" y2="365.90" stroke="#111" stroke-width="0.8"/>
<circle cx="330.70" cy="473.80" r="2.4" fill="#fff" stroke="#111" stroke-width="0.9"/>
<circle cx="376.33" cy="472.40" r="2.4" fill="#fff" stroke="#111" stroke-width="0.9"/>
<circle cx="398.23" cy="452.70" r="2.4" fill="#fff" stroke="#111" stroke-width="0.9"/>
<circle cx="411.92" cy="415.00" r="2.4" fill="#fff" stroke="#111" stroke-width="0.9"/>
<circle cx="421.96" cy="387.00" r="2.4" fill="#fff" stroke="#111" stroke-width="0.9"/>
<circle cx="443.86" cy="354.90" r="2.4" fill="#fff" stroke="#111" stroke-width="0.9"/>
<circle cx="457.55" cy="356.00" r="2.4" fill="#fff" stroke="#111" stroke-width="0.9"/>
<circle cx="467.59" cy="349.50" r="2.4" fill="#fff" stroke="#111" stroke-width="0.9"/>
<circle cx="489.49" cy="341.80" r="2.4" fill="#fff" stroke="#111" stroke-width="0.9"/>
<rect x="328.60" y="465.40" width="4.2" height="4.2" fill="#111" stroke="#111" stroke-width="0"/>
<rect x="374.23" y="463.90" width="4.2" height="4.2" fill="#111" stroke="#111" stroke-width="0"/>
<rect x="396.13" y="444.90" width="4.2" height="4.2" fill="#111" stroke="#111" stroke-width="0"/>
<rect x="409.82" y="406.90" width="4.2" height="4.2" fill="#111" stroke="#111" stroke-width="0"/>
<rect x="419.86" y="399.90" width="4.2" height="4.2" fill="#111" stroke="#111" stroke-width="0"/>
<rect x="441.76" y="379.70" width="4.2" height="4.2" fill="#111" stroke="#111" stroke-width="0"/>
<rect x="455.45" y="359.40" width="4.2" height="4.2" fill="#111" stroke="#111" stroke-width="0"/>
<rect x="465.49" y="357.40" width="4.2" height="4.2" fill="#111" stroke="#111" stroke-width="0"/>
<rect x="487.39" y="354.50" width="4.2" height="4.2" fill="#111" stroke="#111" stroke-width="0"/>
<circle cx="330.70" cy="473.80" r="2.5" fill="#111" stroke="#111" stroke-width="0"/>
<circle cx="376.33" cy="465.70" r="2.5" fill="#111" stroke="#111" stroke-width="0"/>
<circle cx="398.23" cy="446.50" r="2.5" fill="#111" stroke="#111" stroke-width="0"/>
<circle cx="411.92" cy="407.00" r="2.5" fill="#111" stroke="#111" stroke-width="0"/>
<circle cx="421.96" cy="375.60" r="2.5" fill="#111" stroke="#111" stroke-width="0"/>
<circle cx="443.86" cy="363.70" r="2.5" fill="#111" stroke="#111" stroke-width="0"/>
<circle cx="457.55" cy="357.50" r="2.5" fill="#111" stroke="#111" stroke-width="0"/>
<circle cx="467.59" cy="355.50" r="2.5" fill="#111" stroke="#111" stroke-width="0"/>
<circle cx="489.49" cy="346.20" r="2.5" fill="#111" stroke="#111" stroke-width="0"/>
<rect x="455.45" y="362.20" width="4.2" height="4.2" fill="#111" stroke="#111" stroke-width="0"/>
<rect x="487.39" y="343.40" width="4.2" height="4.2" fill="#111" stroke="#111" stroke-width="0"/>
<rect x="325.30" y="265.50" width="4.0" height="4.0" fill="#111" stroke="#111" stroke-width="0"/>
<rect x="325.10" y="276.90" width="4.8" height="4.8" fill="#fff" stroke="#111" stroke-width="0.9"/>
<circle cx="327.30" cy="298.80" r="2.9" fill="#111" stroke="#111" stroke-width="0"/>
<circle cx="327.30" cy="311.70" r="2.6" fill="#fff" stroke="#111" stroke-width="0.9"/>
<text x="335.60" y="270.80" font-size="10.5" text-anchor="start" font-weight="normal" fill="#1a1a1a" stroke="#1a1a1a" stroke-width="0.1" >CXCR4/CCR5</text>
<text x="335.60" y="282.90" font-size="10.5" text-anchor="start" font-weight="normal" fill="#1a1a1a" stroke="#1a1a1a" stroke-width="0.1" >CXCR4/CCR5/CXCR7</text>
<text x="335.60" y="301.20" font-size="10.5" text-anchor="start" font-weight="normal" fill="#1a1a1a" stroke="#1a1a1a" stroke-width="0.1" >CXCR4/CCR5</text>
<text x="335.60" y="313.70" font-size="10.5" text-anchor="start" font-weight="normal" fill="#1a1a1a" stroke="#1a1a1a" stroke-width="0.1" >CXCR4/CCR5/CXCR7</text>
<line x1="448.10" y1="256.00" x2="448.10" y2="283.50" stroke="#111" stroke-width="1.6"/>
<line x1="448.10" y1="289.60" x2="448.10" y2="316.90" stroke="#111" stroke-width="1.6"/>
<text x="451.00" y="274.20" font-size="10.9" text-anchor="start" font-weight="normal" fill="#1a1a1a" stroke="#1a1a1a" stroke-width="0.1" >CXCL12</text>
<text x="451.00" y="307.90" font-size="10.9" text-anchor="start" font-weight="normal" fill="#1a1a1a" stroke="#1a1a1a" stroke-width="0.1" >CCL4</text>
</svg></body></html>
